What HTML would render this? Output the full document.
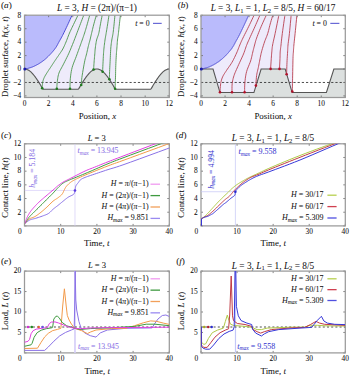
<!DOCTYPE html><html><head><meta charset="utf-8"><style>html,body{margin:0;padding:0;background:#fff;overflow:hidden}svg{display:block}</style></head><body><svg width="350" height="376" viewBox="0 0 350 376" font-family="Liberation Serif">
<style>text{stroke-width:0.05px}</style>
<rect width="350" height="376" fill="#fff"/>
<clipPath id="cpA"><rect x="24.5" y="15.2" width="144.8" height="82.3"/></clipPath>
<g clip-path="url(#cpA)">
<path d="M24.5 69.03 L25.1 69.06 L25.71 69.14 L26.31 69.27 L26.91 69.46 L27.52 69.7 L28.12 69.99 L28.72 70.34 L29.33 70.73 L29.93 71.17 L30.53 71.66 L31.14 72.2 L31.74 72.78 L32.34 73.4 L32.95 74.07 L33.55 74.78 L34.15 75.52 L34.76 76.3 L35.36 77.12 L35.96 77.96 L36.57 78.84 L37.17 79.74 L37.77 80.67 L38.38 81.62 L38.98 82.59 L39.58 83.57 L40.19 84.57 L40.79 85.58 L41.39 86.6 L42 87.62 L42.6 88.65 L43.2 89.18 L43.81 89.18 L44.41 89.18 L45.01 89.18 L45.62 89.18 L46.22 89.18 L46.82 89.18 L47.43 89.18 L48.03 89.18 L48.63 89.18 L49.24 89.18 L49.84 89.18 L50.44 89.18 L51.05 89.18 L51.65 89.18 L52.25 89.18 L52.86 89.18 L53.46 89.18 L54.06 89.18 L54.67 89.18 L55.27 89.18 L55.87 89.18 L56.48 89.18 L57.08 89.18 L57.68 89.18 L58.29 89.18 L58.89 89.18 L59.49 89.18 L60.1 89.18 L60.7 89.18 L61.3 89.18 L61.91 89.18 L62.51 89.18 L63.11 89.18 L63.72 89.18 L64.32 89.18 L64.92 89.18 L65.53 89.18 L66.13 89.18 L66.73 89.18 L67.34 89.18 L67.94 89.18 L68.54 89.18 L69.15 89.18 L69.75 89.18 L70.35 89.18 L70.96 89.18 L71.56 89.18 L72.16 89.18 L72.77 89.18 L73.37 89.18 L73.97 89.18 L74.58 89.18 L75.18 89.18 L75.78 89.18 L76.39 89.18 L76.99 89.18 L77.59 89.18 L78.2 89.18 L78.8 88.65 L79.4 87.62 L80.01 86.6 L80.61 85.58 L81.21 84.57 L81.82 83.57 L82.42 82.59 L83.02 81.62 L83.63 80.67 L84.23 79.74 L84.83 78.84 L85.44 77.96 L86.04 77.12 L86.64 76.3 L87.25 75.52 L87.85 74.78 L88.45 74.07 L89.06 73.4 L89.66 72.78 L90.26 72.2 L90.87 71.66 L91.47 71.17 L92.07 70.73 L92.68 70.34 L93.28 69.99 L93.88 69.7 L94.49 69.46 L95.09 69.27 L95.69 69.14 L96.3 69.06 L96.9 69.03 L97.5 69.06 L98.11 69.14 L98.71 69.27 L99.31 69.46 L99.92 69.7 L100.52 69.99 L101.12 70.34 L101.73 70.73 L102.33 71.17 L102.93 71.66 L103.54 72.2 L104.14 72.78 L104.74 73.4 L105.35 74.07 L105.95 74.78 L106.55 75.52 L107.16 76.3 L107.76 77.12 L108.36 77.96 L108.97 78.84 L109.57 79.74 L110.17 80.67 L110.78 81.62 L111.38 82.59 L111.98 83.57 L112.59 84.57 L113.19 85.58 L113.79 86.6 L114.4 87.62 L115 88.65 L115.6 89.18 L116.21 89.18 L116.81 89.18 L117.41 89.18 L118.02 89.18 L118.62 89.18 L119.22 89.18 L119.83 89.18 L120.43 89.18 L121.03 89.18 L121.64 89.18 L122.24 89.18 L122.84 89.18 L123.45 89.18 L124.05 89.18 L124.65 89.18 L125.26 89.18 L125.86 89.18 L126.46 89.18 L127.07 89.18 L127.67 89.18 L128.27 89.18 L128.88 89.18 L129.48 89.18 L130.08 89.18 L130.69 89.18 L131.29 89.18 L131.89 89.18 L132.5 89.18 L133.1 89.18 L133.7 89.18 L134.31 89.18 L134.91 89.18 L135.51 89.18 L136.12 89.18 L136.72 89.18 L137.32 89.18 L137.93 89.18 L138.53 89.18 L139.13 89.18 L139.74 89.18 L140.34 89.18 L140.94 89.18 L141.55 89.18 L142.15 89.18 L142.75 89.18 L143.36 89.18 L143.96 89.18 L144.56 89.18 L145.17 89.18 L145.77 89.18 L146.37 89.18 L146.98 89.18 L147.58 89.18 L148.18 89.18 L148.79 89.18 L149.39 89.18 L149.99 89.18 L150.6 89.18 L151.2 88.65 L151.8 87.62 L152.41 86.6 L153.01 85.58 L153.61 84.57 L154.22 83.57 L154.82 82.59 L155.42 81.62 L156.03 80.67 L156.63 79.74 L157.23 78.84 L157.84 77.96 L158.44 77.12 L159.04 76.3 L159.65 75.52 L160.25 74.78 L160.85 74.07 L161.46 73.4 L162.06 72.78 L162.66 72.2 L163.27 71.66 L163.87 71.17 L164.47 70.73 L165.08 70.34 L165.68 69.99 L166.28 69.7 L166.89 69.46 L167.49 69.27 L168.09 69.14 L168.7 69.06 L169.3 69.03 L169.3 97.5 L24.5 97.5 Z" fill="#dce0df"/>
<path d="M24.5 15.2 L72.4 14.5 L71.84 15.72 L71.07 17.42 L70.15 19.43 L69.17 21.58 L68.19 23.69 L67.3 25.6 L66.47 27.36 L65.63 29.13 L64.79 30.86 L63.99 32.52 L63.22 34.08 L62.5 35.5 L61.85 36.76 L61.24 37.88 L60.68 38.9 L60.14 39.85 L59.62 40.77 L59.1 41.7 L58.6 42.62 L58.14 43.51 L57.69 44.37 L57.24 45.2 L56.78 46.01 L56.3 46.8 L55.8 47.56 L55.3 48.29 L54.78 48.99 L54.25 49.68 L53.69 50.38 L53.1 51.1 L52.47 51.84 L51.81 52.6 L51.12 53.36 L50.42 54.12 L49.71 54.87 L49 55.6 L48.29 56.32 L47.56 57.03 L46.83 57.73 L46.09 58.41 L45.35 59.07 L44.6 59.7 L43.84 60.31 L43.06 60.9 L42.28 61.46 L41.5 62 L40.73 62.52 L40 63 L39.3 63.45 L38.61 63.86 L37.94 64.25 L37.29 64.61 L36.64 64.96 L36 65.3 L35.37 65.62 L34.76 65.93 L34.16 66.21 L33.55 66.49 L32.94 66.75 L32.3 67 L31.63 67.25 L30.94 67.48 L30.24 67.71 L29.54 67.92 L28.86 68.12 L28.2 68.3 L27.53 68.47 L26.83 68.63 L26.14 68.78 L25.51 68.91 L24.99 69.02 L24.6 69.1 L24.5 69.1 Z" fill="#babbfc"/>
<path d="M72.4 14.5 L71.84 15.72 L71.07 17.42 L70.15 19.43 L69.17 21.58 L68.19 23.69 L67.3 25.6 L66.47 27.36 L65.63 29.13 L64.79 30.86 L63.99 32.52 L63.22 34.08 L62.5 35.5 L61.85 36.76 L61.24 37.88 L60.68 38.9 L60.14 39.85 L59.62 40.77 L59.1 41.7 L58.6 42.62 L58.14 43.51 L57.69 44.37 L57.24 45.2 L56.78 46.01 L56.3 46.8 L55.8 47.56 L55.3 48.29 L54.78 48.99 L54.25 49.68 L53.69 50.38 L53.1 51.1 L52.47 51.84 L51.81 52.6 L51.12 53.36 L50.42 54.12 L49.71 54.87 L49 55.6 L48.29 56.32 L47.56 57.03 L46.83 57.73 L46.09 58.41 L45.35 59.07 L44.6 59.7 L43.84 60.31 L43.06 60.9 L42.28 61.46 L41.5 62 L40.73 62.52 L40 63 L39.3 63.45 L38.61 63.86 L37.94 64.25 L37.29 64.61 L36.64 64.96 L36 65.3 L35.37 65.62 L34.76 65.93 L34.16 66.21 L33.55 66.49 L32.94 66.75 L32.3 67 L31.63 67.25 L30.94 67.48 L30.24 67.71 L29.54 67.92 L28.86 68.12 L28.2 68.3 L27.53 68.47 L26.83 68.63 L26.14 68.78 L25.51 68.91 L24.99 69.02 L24.6 69.1 L24.5 69.03 L25.1 69.06 L25.71 69.14 L26.31 69.27 L26.91 69.46 L27.52 69.7 L28.12 69.99 L28.72 70.34 L29.33 70.73 L29.93 71.17 L30.53 71.66 L31.14 72.2 L31.74 72.78 L32.34 73.4 L32.95 74.07 L33.55 74.78 L34.15 75.52 L34.76 76.3 L35.36 77.12 L35.96 77.96 L36.57 78.84 L37.17 79.74 L37.77 80.67 L38.38 81.62 L38.98 82.59 L39.58 83.57 L40.19 84.57 L40.79 85.58 L41.39 86.6 L42 87.62 L42.6 88.65 L43.2 89.18 L43.81 89.18 L44.41 89.18 L45.01 89.18 L45.62 89.18 L46.22 89.18 L46.82 89.18 L47.43 89.18 L48.03 89.18 L48.63 89.18 L49.24 89.18 L49.84 89.18 L50.44 89.18 L51.05 89.18 L51.65 89.18 L52.25 89.18 L52.86 89.18 L53.46 89.18 L54.06 89.18 L54.67 89.18 L55.27 89.18 L55.87 89.18 L56.48 89.18 L57.08 89.18 L57.68 89.18 L58.29 89.18 L58.89 89.18 L59.49 89.18 L60.1 89.18 L60.7 89.18 L61.3 89.18 L61.91 89.18 L62.51 89.18 L63.11 89.18 L63.72 89.18 L64.32 89.18 L64.92 89.18 L65.53 89.18 L66.13 89.18 L66.73 89.18 L67.34 89.18 L67.94 89.18 L68.54 89.18 L69.15 89.18 L69.75 89.18 L70.35 89.18 L70.96 89.18 L71.56 89.18 L72.16 89.18 L72.77 89.18 L73.37 89.18 L73.97 89.18 L74.58 89.18 L75.18 89.18 L75.78 89.18 L76.39 89.18 L76.99 89.18 L77.59 89.18 L78.2 89.18 L78.8 88.65 L79.4 87.62 L80.01 86.6 L80.61 85.58 L81.21 84.57 L81.82 83.57 L82.42 82.59 L83.02 81.62 L83.63 80.67 L84.23 79.74 L84.83 78.84 L85.44 77.96 L86.04 77.12 L86.64 76.3 L87.25 75.52 L87.85 74.78 L88.45 74.07 L89.06 73.4 L89.66 72.78 L90.26 72.2 L90.87 71.66 L91.47 71.17 L92.07 70.73 L92.68 70.34 L93.28 69.99 L93.88 69.7 L94.49 69.46 L95.09 69.27 L95.69 69.14 L96.3 69.06 L96.9 69.03 L97.5 69.06 L98.11 69.14 L98.71 69.27 L99.31 69.46 L99.92 69.7 L100.52 69.99 L101.12 70.34 L101.73 70.73 L102.33 71.17 L102.93 71.66 L103.54 72.2 L104.14 72.78 L104.74 73.4 L105.35 74.07 L105.95 74.78 L106.55 75.52 L107.16 76.3 L107.76 77.12 L108.36 77.96 L108.97 78.84 L109.57 79.74 L110.17 80.67 L110.78 81.62 L111.38 82.59 L111.98 83.57 L112.59 84.57 L113.19 85.58 L113.79 86.6 L114.4 87.62 L115 88.65 L115.1 88.7 L115.14 87.45 L115.21 85.73 L115.28 83.68 L115.36 81.47 L115.43 79.26 L115.5 77.2 L115.55 75.26 L115.6 73.31 L115.64 71.36 L115.68 69.41 L115.73 67.45 L115.8 65.5 L115.88 63.48 L115.98 61.38 L116.09 59.28 L116.2 57.26 L116.3 55.41 L116.4 53.8 L116.49 52.52 L116.57 51.51 L116.65 50.67 L116.73 49.88 L116.81 49.03 L116.9 48 L116.99 46.78 L117.08 45.44 L117.18 44.04 L117.27 42.63 L117.38 41.27 L117.5 40 L117.63 38.87 L117.78 37.83 L117.93 36.84 L118.09 35.84 L118.25 34.78 L118.4 33.6 L118.55 32.32 L118.69 30.97 L118.83 29.56 L118.98 28.09 L119.13 26.57 L119.3 25 L119.5 23.24 L119.72 21.25 L119.96 19.21 L120.18 17.29 L120.37 15.66 L120.5 14.5 Z" fill="#eeebfb"/>
<line x1="24.5" y1="82.47" x2="169.3" y2="82.47" stroke="#222" stroke-width="0.8" stroke-dasharray="2.2 2"/>
<path d="M24.5 69.03 L25.1 69.06 L25.71 69.14 L26.31 69.27 L26.91 69.46 L27.52 69.7 L28.12 69.99 L28.72 70.34 L29.33 70.73 L29.93 71.17 L30.53 71.66 L31.14 72.2 L31.74 72.78 L32.34 73.4 L32.95 74.07 L33.55 74.78 L34.15 75.52 L34.76 76.3 L35.36 77.12 L35.96 77.96 L36.57 78.84 L37.17 79.74 L37.77 80.67 L38.38 81.62 L38.98 82.59 L39.58 83.57 L40.19 84.57 L40.79 85.58 L41.39 86.6 L42 87.62 L42.6 88.65 L43.2 89.18 L43.81 89.18 L44.41 89.18 L45.01 89.18 L45.62 89.18 L46.22 89.18 L46.82 89.18 L47.43 89.18 L48.03 89.18 L48.63 89.18 L49.24 89.18 L49.84 89.18 L50.44 89.18 L51.05 89.18 L51.65 89.18 L52.25 89.18 L52.86 89.18 L53.46 89.18 L54.06 89.18 L54.67 89.18 L55.27 89.18 L55.87 89.18 L56.48 89.18 L57.08 89.18 L57.68 89.18 L58.29 89.18 L58.89 89.18 L59.49 89.18 L60.1 89.18 L60.7 89.18 L61.3 89.18 L61.91 89.18 L62.51 89.18 L63.11 89.18 L63.72 89.18 L64.32 89.18 L64.92 89.18 L65.53 89.18 L66.13 89.18 L66.73 89.18 L67.34 89.18 L67.94 89.18 L68.54 89.18 L69.15 89.18 L69.75 89.18 L70.35 89.18 L70.96 89.18 L71.56 89.18 L72.16 89.18 L72.77 89.18 L73.37 89.18 L73.97 89.18 L74.58 89.18 L75.18 89.18 L75.78 89.18 L76.39 89.18 L76.99 89.18 L77.59 89.18 L78.2 89.18 L78.8 88.65 L79.4 87.62 L80.01 86.6 L80.61 85.58 L81.21 84.57 L81.82 83.57 L82.42 82.59 L83.02 81.62 L83.63 80.67 L84.23 79.74 L84.83 78.84 L85.44 77.96 L86.04 77.12 L86.64 76.3 L87.25 75.52 L87.85 74.78 L88.45 74.07 L89.06 73.4 L89.66 72.78 L90.26 72.2 L90.87 71.66 L91.47 71.17 L92.07 70.73 L92.68 70.34 L93.28 69.99 L93.88 69.7 L94.49 69.46 L95.09 69.27 L95.69 69.14 L96.3 69.06 L96.9 69.03 L97.5 69.06 L98.11 69.14 L98.71 69.27 L99.31 69.46 L99.92 69.7 L100.52 69.99 L101.12 70.34 L101.73 70.73 L102.33 71.17 L102.93 71.66 L103.54 72.2 L104.14 72.78 L104.74 73.4 L105.35 74.07 L105.95 74.78 L106.55 75.52 L107.16 76.3 L107.76 77.12 L108.36 77.96 L108.97 78.84 L109.57 79.74 L110.17 80.67 L110.78 81.62 L111.38 82.59 L111.98 83.57 L112.59 84.57 L113.19 85.58 L113.79 86.6 L114.4 87.62 L115 88.65 L115.6 89.18 L116.21 89.18 L116.81 89.18 L117.41 89.18 L118.02 89.18 L118.62 89.18 L119.22 89.18 L119.83 89.18 L120.43 89.18 L121.03 89.18 L121.64 89.18 L122.24 89.18 L122.84 89.18 L123.45 89.18 L124.05 89.18 L124.65 89.18 L125.26 89.18 L125.86 89.18 L126.46 89.18 L127.07 89.18 L127.67 89.18 L128.27 89.18 L128.88 89.18 L129.48 89.18 L130.08 89.18 L130.69 89.18 L131.29 89.18 L131.89 89.18 L132.5 89.18 L133.1 89.18 L133.7 89.18 L134.31 89.18 L134.91 89.18 L135.51 89.18 L136.12 89.18 L136.72 89.18 L137.32 89.18 L137.93 89.18 L138.53 89.18 L139.13 89.18 L139.74 89.18 L140.34 89.18 L140.94 89.18 L141.55 89.18 L142.15 89.18 L142.75 89.18 L143.36 89.18 L143.96 89.18 L144.56 89.18 L145.17 89.18 L145.77 89.18 L146.37 89.18 L146.98 89.18 L147.58 89.18 L148.18 89.18 L148.79 89.18 L149.39 89.18 L149.99 89.18 L150.6 89.18 L151.2 88.65 L151.8 87.62 L152.41 86.6 L153.01 85.58 L153.61 84.57 L154.22 83.57 L154.82 82.59 L155.42 81.62 L156.03 80.67 L156.63 79.74 L157.23 78.84 L157.84 77.96 L158.44 77.12 L159.04 76.3 L159.65 75.52 L160.25 74.78 L160.85 74.07 L161.46 73.4 L162.06 72.78 L162.66 72.2 L163.27 71.66 L163.87 71.17 L164.47 70.73 L165.08 70.34 L165.68 69.99 L166.28 69.7 L166.89 69.46 L167.49 69.27 L168.09 69.14 L168.7 69.06 L169.3 69.03" fill="none" stroke="#555" stroke-width="1.1"/>
<path d="M42.2 88.3 L42.24 87.63 L42.29 86.7 L42.36 85.59 L42.44 84.43 L42.55 83.29 L42.7 82.3 L42.87 81.45 L43.07 80.66 L43.29 79.91 L43.54 79.16 L43.85 78.4 L44.2 77.6 L44.62 76.75 L45.09 75.89 L45.61 75.01 L46.16 74.11 L46.73 73.21 L47.3 72.3 L47.88 71.39 L48.48 70.47 L49.09 69.55 L49.72 68.61 L50.36 67.67 L51 66.7 L51.65 65.71 L52.3 64.7 L52.97 63.68 L53.64 62.65 L54.32 61.62 L55 60.6 L55.7 59.58 L56.41 58.54 L57.12 57.51 L57.84 56.49 L58.53 55.48 L59.2 54.5 L59.84 53.57 L60.46 52.68 L61.06 51.81 L61.65 50.92 L62.23 50 L62.8 49 L63.35 47.94 L63.89 46.85 L64.41 45.72 L64.93 44.54 L65.45 43.3 L66 42 L66.56 40.61 L67.13 39.13 L67.7 37.59 L68.29 36.04 L68.88 34.49 L69.5 33 L70.13 31.57 L70.77 30.19 L71.42 28.81 L72.09 27.43 L72.78 26 L73.5 24.5 L74.31 22.8 L75.22 20.91 L76.15 18.97 L77.03 17.15 L77.77 15.61 L78.3 14.5" fill="none" stroke="#4a944a" stroke-width="0.9" stroke-linejoin="round"/>
<path d="M56.8 88.7 L56.84 87.93 L56.89 86.87 L56.95 85.62 L57.03 84.25 L57.15 82.85 L57.3 81.5 L57.47 80.18 L57.66 78.81 L57.87 77.42 L58.13 76.01 L58.47 74.6 L58.9 73.2 L59.43 71.85 L60.06 70.54 L60.76 69.23 L61.51 67.87 L62.29 66.45 L63.1 64.9 L63.96 63.19 L64.9 61.34 L65.87 59.41 L66.84 57.47 L67.76 55.58 L68.6 53.8 L69.35 52.14 L70.03 50.56 L70.67 49.02 L71.29 47.51 L71.89 46.01 L72.5 44.5 L73.1 42.99 L73.69 41.51 L74.26 40.04 L74.83 38.56 L75.4 37.05 L76 35.5 L76.61 33.9 L77.23 32.28 L77.86 30.62 L78.49 28.94 L79.14 27.24 L79.8 25.5 L80.53 23.6 L81.33 21.5 L82.14 19.38 L82.9 17.39 L83.54 15.71 L84 14.5" fill="none" stroke="#4a944a" stroke-width="0.9" stroke-linejoin="round"/>
<path d="M70 88.7 L70.02 87.64 L70.02 86.18 L70.04 84.44 L70.08 82.56 L70.16 80.63 L70.3 78.8 L70.49 77.02 L70.7 75.19 L70.96 73.33 L71.27 71.44 L71.65 69.56 L72.1 67.7 L72.66 65.83 L73.33 63.93 L74.06 62.03 L74.81 60.15 L75.54 58.33 L76.2 56.6 L76.8 54.95 L77.38 53.36 L77.94 51.82 L78.47 50.34 L78.99 48.9 L79.5 47.5 L79.99 46.15 L80.46 44.86 L80.91 43.62 L81.34 42.4 L81.77 41.2 L82.2 40 L82.62 38.82 L83.02 37.67 L83.42 36.53 L83.81 35.39 L84.2 34.22 L84.6 33 L84.99 31.75 L85.38 30.5 L85.77 29.22 L86.16 27.89 L86.57 26.49 L87 25 L87.49 23.27 L88.04 21.3 L88.6 19.25 L89.13 17.31 L89.58 15.67 L89.9 14.5" fill="none" stroke="#4a944a" stroke-width="0.9" stroke-linejoin="round"/>
<path d="M81.2 85 L81.25 84.26 L81.31 83.31 L81.39 82.16 L81.5 80.79 L81.67 79.2 L81.9 77.4 L82.23 75.21 L82.64 72.61 L83.11 69.79 L83.6 66.97 L84.07 64.33 L84.5 62.1 L84.88 60.31 L85.24 58.81 L85.59 57.51 L85.93 56.31 L86.27 55.1 L86.6 53.8 L86.93 52.38 L87.26 50.93 L87.59 49.47 L87.9 48.06 L88.21 46.72 L88.5 45.5 L88.77 44.43 L89.03 43.49 L89.28 42.63 L89.51 41.8 L89.75 40.94 L90 40 L90.24 39.01 L90.48 38.01 L90.71 36.99 L90.96 35.93 L91.22 34.8 L91.5 33.6 L91.81 32.32 L92.13 30.97 L92.46 29.56 L92.82 28.09 L93.2 26.57 L93.6 25 L94.07 23.24 L94.61 21.25 L95.18 19.21 L95.72 17.29 L96.18 15.66 L96.5 14.5" fill="none" stroke="#4a944a" stroke-width="0.9" stroke-linejoin="round"/>
<path d="M93.6 69.5 L93.65 68.69 L93.72 67.58 L93.81 66.26 L93.9 64.83 L94 63.38 L94.1 62 L94.21 60.65 L94.33 59.23 L94.45 57.79 L94.57 56.38 L94.69 55.04 L94.8 53.8 L94.89 52.72 L94.95 51.77 L95.01 50.89 L95.08 50.01 L95.17 49.07 L95.3 48 L95.46 46.78 L95.64 45.44 L95.85 44.04 L96.08 42.63 L96.33 41.27 L96.6 40 L96.91 38.87 L97.26 37.83 L97.63 36.84 L98.01 35.84 L98.37 34.78 L98.7 33.6 L98.99 32.32 L99.26 30.97 L99.51 29.56 L99.76 28.09 L100.02 26.57 L100.3 25 L100.63 23.24 L101.01 21.25 L101.4 19.21 L101.77 17.29 L102.08 15.66 L102.3 14.5" fill="none" stroke="#4a944a" stroke-width="0.9" stroke-linejoin="round"/>
<path d="M102.6 71.7 L102.64 70.79 L102.7 69.53 L102.77 68.04 L102.84 66.41 L102.92 64.77 L103 63.2 L103.08 61.64 L103.16 60 L103.24 58.33 L103.33 56.7 L103.42 55.17 L103.5 53.8 L103.58 52.65 L103.65 51.68 L103.72 50.81 L103.8 49.96 L103.89 49.05 L104 48 L104.14 46.78 L104.29 45.44 L104.46 44.04 L104.64 42.63 L104.82 41.27 L105 40 L105.17 38.87 L105.35 37.83 L105.53 36.84 L105.71 35.84 L105.9 34.78 L106.1 33.6 L106.31 32.32 L106.54 30.97 L106.77 29.56 L107.01 28.09 L107.25 26.57 L107.5 25 L107.77 23.24 L108.08 21.25 L108.39 19.21 L108.68 17.29 L108.92 15.66 L109.1 14.5" fill="none" stroke="#4a944a" stroke-width="0.9" stroke-linejoin="round"/>
<path d="M109.4 79.3 L109.42 78.48 L109.44 77.39 L109.46 76.08 L109.5 74.61 L109.54 73.03 L109.6 71.4 L109.68 69.67 L109.77 67.78 L109.88 65.79 L109.99 63.74 L110.1 61.69 L110.2 59.7 L110.3 57.71 L110.39 55.66 L110.48 53.62 L110.57 51.63 L110.68 49.74 L110.8 48 L110.94 46.43 L111.1 45 L111.26 43.67 L111.44 42.41 L111.62 41.2 L111.8 40 L111.99 38.87 L112.19 37.83 L112.4 36.84 L112.61 35.84 L112.81 34.78 L113 33.6 L113.18 32.32 L113.35 30.97 L113.51 29.56 L113.67 28.09 L113.84 26.57 L114 25 L114.18 23.24 L114.37 21.25 L114.56 19.21 L114.74 17.29 L114.89 15.66 L115 14.5" fill="none" stroke="#4a944a" stroke-width="0.9" stroke-linejoin="round"/>
<path d="M115.1 88.7 L115.14 87.45 L115.21 85.73 L115.28 83.68 L115.36 81.47 L115.43 79.26 L115.5 77.2 L115.55 75.26 L115.6 73.31 L115.64 71.36 L115.68 69.41 L115.73 67.45 L115.8 65.5 L115.88 63.48 L115.98 61.38 L116.09 59.28 L116.2 57.26 L116.3 55.41 L116.4 53.8 L116.49 52.52 L116.57 51.51 L116.65 50.67 L116.73 49.88 L116.81 49.03 L116.9 48 L116.99 46.78 L117.08 45.44 L117.18 44.04 L117.27 42.63 L117.38 41.27 L117.5 40 L117.63 38.87 L117.78 37.83 L117.93 36.84 L118.09 35.84 L118.25 34.78 L118.4 33.6 L118.55 32.32 L118.69 30.97 L118.83 29.56 L118.98 28.09 L119.13 26.57 L119.3 25 L119.5 23.24 L119.72 21.25 L119.96 19.21 L120.18 17.29 L120.37 15.66 L120.5 14.5" fill="none" stroke="#4a944a" stroke-width="0.9" stroke-linejoin="round"/>
<path d="M24.6 69.1 L24.99 69.02 L25.51 68.91 L26.14 68.78 L26.83 68.63 L27.53 68.47 L28.2 68.3 L28.86 68.12 L29.54 67.92 L30.24 67.71 L30.94 67.48 L31.63 67.25 L32.3 67 L32.94 66.75 L33.55 66.49 L34.16 66.21 L34.76 65.93 L35.37 65.62 L36 65.3 L36.64 64.96 L37.29 64.61 L37.94 64.25 L38.61 63.86 L39.3 63.45 L40 63 L40.73 62.52 L41.5 62 L42.28 61.46 L43.06 60.9 L43.84 60.31 L44.6 59.7 L45.35 59.07 L46.09 58.41 L46.83 57.73 L47.56 57.03 L48.29 56.32 L49 55.6 L49.71 54.87 L50.42 54.12 L51.12 53.36 L51.81 52.6 L52.47 51.84 L53.1 51.1 L53.69 50.38 L54.25 49.68 L54.78 48.99 L55.3 48.29 L55.8 47.56 L56.3 46.8 L56.78 46.01 L57.24 45.2 L57.69 44.37 L58.14 43.51 L58.6 42.62 L59.1 41.7 L59.62 40.77 L60.14 39.85 L60.68 38.9 L61.24 37.88 L61.85 36.76 L62.5 35.5 L63.22 34.08 L63.99 32.52 L64.79 30.86 L65.63 29.13 L66.47 27.36 L67.3 25.6 L68.19 23.69 L69.17 21.58 L70.15 19.43 L71.07 17.42 L71.84 15.72 L72.4 14.5" fill="none" stroke="#3a3ad0" stroke-width="0.9"/>
<circle cx="42.2" cy="88.3" r="1.3" fill="#1f7a1f"/>
<circle cx="56.8" cy="88.7" r="1.3" fill="#1f7a1f"/>
<circle cx="70" cy="88.7" r="1.3" fill="#1f7a1f"/>
<circle cx="81.2" cy="85" r="1.3" fill="#1f7a1f"/>
<circle cx="93.6" cy="69.5" r="1.3" fill="#1f7a1f"/>
<circle cx="102.6" cy="71.7" r="1.3" fill="#1f7a1f"/>
<circle cx="109.4" cy="79.3" r="1.3" fill="#1f7a1f"/>
<circle cx="115.1" cy="88.7" r="1.3" fill="#1f7a1f"/>
</g>
<line x1="24.5" y1="97.5" x2="24.5" y2="95.5" stroke="#666" stroke-width="0.8"/>
<line x1="24.5" y1="15.2" x2="24.5" y2="17.2" stroke="#666" stroke-width="0.8"/>
<text x="24.5" y="105.5" font-size="7.4" text-anchor="middle" fill="#111" stroke="#111" >0</text>
<line x1="48.63" y1="97.5" x2="48.63" y2="95.5" stroke="#666" stroke-width="0.8"/>
<line x1="48.63" y1="15.2" x2="48.63" y2="17.2" stroke="#666" stroke-width="0.8"/>
<text x="48.63" y="105.5" font-size="7.4" text-anchor="middle" fill="#111" stroke="#111" >2</text>
<line x1="72.77" y1="97.5" x2="72.77" y2="95.5" stroke="#666" stroke-width="0.8"/>
<line x1="72.77" y1="15.2" x2="72.77" y2="17.2" stroke="#666" stroke-width="0.8"/>
<text x="72.77" y="105.5" font-size="7.4" text-anchor="middle" fill="#111" stroke="#111" >4</text>
<line x1="96.9" y1="97.5" x2="96.9" y2="95.5" stroke="#666" stroke-width="0.8"/>
<line x1="96.9" y1="15.2" x2="96.9" y2="17.2" stroke="#666" stroke-width="0.8"/>
<text x="96.9" y="105.5" font-size="7.4" text-anchor="middle" fill="#111" stroke="#111" >6</text>
<line x1="121.03" y1="97.5" x2="121.03" y2="95.5" stroke="#666" stroke-width="0.8"/>
<line x1="121.03" y1="15.2" x2="121.03" y2="17.2" stroke="#666" stroke-width="0.8"/>
<text x="121.03" y="105.5" font-size="7.4" text-anchor="middle" fill="#111" stroke="#111" >8</text>
<line x1="145.17" y1="97.5" x2="145.17" y2="95.5" stroke="#666" stroke-width="0.8"/>
<line x1="145.17" y1="15.2" x2="145.17" y2="17.2" stroke="#666" stroke-width="0.8"/>
<text x="145.17" y="105.5" font-size="7.4" text-anchor="middle" fill="#111" stroke="#111" >10</text>
<line x1="169.3" y1="97.5" x2="169.3" y2="95.5" stroke="#666" stroke-width="0.8"/>
<line x1="169.3" y1="15.2" x2="169.3" y2="17.2" stroke="#666" stroke-width="0.8"/>
<text x="169.3" y="105.5" font-size="7.4" text-anchor="middle" fill="#111" stroke="#111" >12</text>
<line x1="24.5" y1="95.9" x2="26.5" y2="95.9" stroke="#666" stroke-width="0.8"/>
<line x1="169.3" y1="95.9" x2="167.3" y2="95.9" stroke="#666" stroke-width="0.8"/>
<text x="21.2" y="98.2" font-size="7.4" text-anchor="end" fill="#111" stroke="#111" >&#8722;4</text>
<line x1="24.5" y1="82.47" x2="26.5" y2="82.47" stroke="#666" stroke-width="0.8"/>
<line x1="169.3" y1="82.47" x2="167.3" y2="82.47" stroke="#666" stroke-width="0.8"/>
<text x="21.2" y="84.77" font-size="7.4" text-anchor="end" fill="#111" stroke="#111" >&#8722;2</text>
<line x1="24.5" y1="69.03" x2="26.5" y2="69.03" stroke="#666" stroke-width="0.8"/>
<line x1="169.3" y1="69.03" x2="167.3" y2="69.03" stroke="#666" stroke-width="0.8"/>
<text x="21.2" y="71.33" font-size="7.4" text-anchor="end" fill="#111" stroke="#111" >0</text>
<line x1="24.5" y1="55.6" x2="26.5" y2="55.6" stroke="#666" stroke-width="0.8"/>
<line x1="169.3" y1="55.6" x2="167.3" y2="55.6" stroke="#666" stroke-width="0.8"/>
<text x="21.2" y="57.9" font-size="7.4" text-anchor="end" fill="#111" stroke="#111" >2</text>
<line x1="24.5" y1="42.17" x2="26.5" y2="42.17" stroke="#666" stroke-width="0.8"/>
<line x1="169.3" y1="42.17" x2="167.3" y2="42.17" stroke="#666" stroke-width="0.8"/>
<text x="21.2" y="44.47" font-size="7.4" text-anchor="end" fill="#111" stroke="#111" >4</text>
<line x1="24.5" y1="28.73" x2="26.5" y2="28.73" stroke="#666" stroke-width="0.8"/>
<line x1="169.3" y1="28.73" x2="167.3" y2="28.73" stroke="#666" stroke-width="0.8"/>
<text x="21.2" y="31.03" font-size="7.4" text-anchor="end" fill="#111" stroke="#111" >6</text>
<line x1="24.5" y1="15.3" x2="26.5" y2="15.3" stroke="#666" stroke-width="0.8"/>
<line x1="169.3" y1="15.3" x2="167.3" y2="15.3" stroke="#666" stroke-width="0.8"/>
<text x="21.2" y="17.6" font-size="7.4" text-anchor="end" fill="#111" stroke="#111" >8</text>
<rect x="24.5" y="15.2" width="144.8" height="82.3" fill="none" stroke="#9a9a9a" stroke-width="1.25"/>
<circle cx="24.8" cy="69.1" r="1.5" fill="#1a1aaa"/>
<clipPath id="cpB"><rect x="201.0" y="15.2" width="144.3" height="82.3"/></clipPath>
<g clip-path="url(#cpB)">
<path d="M201 69.03 L213.03 69.03 L220 92.54 L253.91 92.54 L261.12 69.03 L285.18 69.03 L292.15 92.54 L326.42 92.54 L333.88 69.03 L345.3 69.03 L346.3 97.5 L201 97.5 Z" fill="#dce0df"/>
<path d="M201 15.2 L249 14.5 L248.94 14.63 L248.86 14.8 L248.77 15 L248.66 15.23 L248.55 15.48 L248.44 15.72 L248.33 15.97 L248.2 16.24 L248.08 16.52 L247.94 16.81 L247.81 17.12 L247.67 17.42 L247.52 17.74 L247.37 18.06 L247.22 18.4 L247.07 18.74 L246.91 19.08 L246.75 19.43 L246.59 19.78 L246.43 20.14 L246.26 20.5 L246.1 20.86 L245.93 21.22 L245.77 21.58 L245.6 21.93 L245.44 22.29 L245.27 22.65 L245.11 23 L244.95 23.35 L244.79 23.69 L244.64 24.02 L244.49 24.35 L244.34 24.67 L244.19 24.98 L244.04 25.29 L243.9 25.6 L243.76 25.9 L243.62 26.2 L243.48 26.49 L243.34 26.78 L243.21 27.07 L243.07 27.36 L242.93 27.66 L242.79 27.95 L242.65 28.25 L242.51 28.54 L242.37 28.83 L242.23 29.13 L242.09 29.42 L241.95 29.71 L241.81 30 L241.67 30.29 L241.53 30.57 L241.39 30.86 L241.26 31.14 L241.12 31.42 L240.99 31.7 L240.85 31.97 L240.72 32.25 L240.59 32.52 L240.45 32.79 L240.32 33.05 L240.19 33.31 L240.07 33.57 L239.94 33.83 L239.82 34.08 L239.69 34.32 L239.57 34.57 L239.45 34.81 L239.33 35.04 L239.22 35.27 L239.1 35.5 L238.99 35.72 L238.88 35.94 L238.77 36.15 L238.66 36.36 L238.55 36.56 L238.45 36.76 L238.34 36.96 L238.24 37.15 L238.14 37.34 L238.04 37.52 L237.94 37.7 L237.84 37.88 L237.74 38.06 L237.65 38.23 L237.55 38.4 L237.46 38.57 L237.37 38.74 L237.28 38.9 L237.18 39.06 L237.09 39.22 L237 39.38 L236.91 39.54 L236.83 39.7 L236.74 39.85 L236.65 40.01 L236.56 40.16 L236.47 40.31 L236.39 40.47 L236.3 40.62 L236.22 40.77 L236.13 40.93 L236.04 41.08 L235.96 41.24 L235.87 41.39 L235.78 41.55 L235.7 41.7 L235.62 41.85 L235.53 42.01 L235.45 42.16 L235.37 42.32 L235.28 42.47 L235.2 42.62 L235.12 42.77 L235.04 42.92 L234.97 43.07 L234.89 43.22 L234.81 43.37 L234.74 43.51 L234.66 43.66 L234.59 43.8 L234.51 43.94 L234.44 44.09 L234.36 44.23 L234.29 44.37 L234.21 44.51 L234.14 44.65 L234.06 44.79 L233.99 44.93 L233.92 45.06 L233.84 45.2 L233.77 45.34 L233.69 45.47 L233.61 45.61 L233.54 45.74 L233.46 45.88 L233.38 46.01 L233.3 46.14 L233.22 46.28 L233.14 46.41 L233.06 46.54 L232.98 46.67 L232.9 46.8 L232.82 46.93 L232.73 47.06 L232.65 47.18 L232.57 47.31 L232.48 47.44 L232.4 47.56 L232.32 47.68 L232.23 47.81 L232.15 47.93 L232.07 48.05 L231.98 48.17 L231.9 48.29 L231.81 48.4 L231.73 48.52 L231.64 48.64 L231.55 48.75 L231.47 48.87 L231.38 48.99 L231.29 49.1 L231.21 49.22 L231.12 49.33 L231.03 49.45 L230.94 49.57 L230.85 49.68 L230.76 49.8 L230.67 49.91 L230.57 50.03 L230.48 50.15 L230.39 50.26 L230.29 50.38 L230.19 50.5 L230.1 50.62 L230 50.74 L229.9 50.86 L229.8 50.98 L229.7 51.1 L229.6 51.22 L229.49 51.35 L229.39 51.47 L229.29 51.59 L229.18 51.72 L229.07 51.84 L228.96 51.97 L228.86 52.09 L228.75 52.22 L228.63 52.35 L228.52 52.47 L228.41 52.6 L228.3 52.73 L228.18 52.85 L228.07 52.98 L227.96 53.11 L227.84 53.24 L227.72 53.36 L227.61 53.49 L227.49 53.62 L227.38 53.74 L227.26 53.87 L227.14 54 L227.02 54.12 L226.9 54.25 L226.79 54.37 L226.67 54.5 L226.55 54.62 L226.43 54.75 L226.31 54.87 L226.19 54.99 L226.07 55.12 L225.96 55.24 L225.84 55.36 L225.72 55.48 L225.6 55.6 L225.48 55.72 L225.36 55.84 L225.24 55.96 L225.13 56.08 L225.01 56.2 L224.89 56.32 L224.77 56.43 L224.65 56.55 L224.53 56.67 L224.41 56.79 L224.28 56.91 L224.16 57.03 L224.04 57.14 L223.92 57.26 L223.8 57.38 L223.68 57.49 L223.55 57.61 L223.43 57.73 L223.31 57.84 L223.19 57.95 L223.06 58.07 L222.94 58.18 L222.82 58.3 L222.69 58.41 L222.57 58.52 L222.45 58.63 L222.32 58.74 L222.2 58.85 L222.07 58.96 L221.95 59.07 L221.82 59.17 L221.7 59.28 L221.58 59.39 L221.45 59.49 L221.33 59.6 L221.2 59.7 L221.07 59.8 L220.95 59.91 L220.82 60.01 L220.69 60.11 L220.57 60.21 L220.44 60.31 L220.31 60.41 L220.18 60.51 L220.05 60.6 L219.92 60.7 L219.79 60.8 L219.66 60.9 L219.53 60.99 L219.4 61.09 L219.27 61.18 L219.14 61.28 L219.01 61.37 L218.88 61.46 L218.74 61.55 L218.61 61.65 L218.48 61.74 L218.35 61.83 L218.23 61.92 L218.1 62 L217.97 62.09 L217.84 62.18 L217.71 62.26 L217.59 62.35 L217.46 62.43 L217.33 62.52 L217.21 62.6 L217.09 62.68 L216.96 62.76 L216.84 62.84 L216.72 62.92 L216.6 63 L216.48 63.08 L216.36 63.15 L216.24 63.23 L216.13 63.3 L216.01 63.38 L215.9 63.45 L215.78 63.52 L215.66 63.59 L215.55 63.66 L215.44 63.73 L215.32 63.8 L215.21 63.86 L215.1 63.93 L214.99 63.99 L214.88 64.06 L214.76 64.12 L214.65 64.19 L214.54 64.25 L214.43 64.31 L214.32 64.37 L214.22 64.43 L214.11 64.5 L214 64.56 L213.89 64.61 L213.78 64.67 L213.67 64.73 L213.56 64.79 L213.46 64.85 L213.35 64.91 L213.24 64.96 L213.13 65.02 L213.03 65.08 L212.92 65.13 L212.81 65.19 L212.71 65.24 L212.6 65.3 L212.49 65.35 L212.39 65.41 L212.28 65.46 L212.18 65.52 L212.07 65.57 L211.97 65.62 L211.87 65.67 L211.77 65.73 L211.66 65.78 L211.56 65.83 L211.46 65.88 L211.36 65.93 L211.26 65.97 L211.16 66.02 L211.06 66.07 L210.96 66.12 L210.86 66.17 L210.76 66.21 L210.66 66.26 L210.56 66.3 L210.45 66.35 L210.35 66.4 L210.25 66.44 L210.15 66.49 L210.05 66.53 L209.95 66.57 L209.85 66.62 L209.74 66.66 L209.64 66.7 L209.54 66.75 L209.43 66.79 L209.33 66.83 L209.22 66.87 L209.12 66.92 L209.01 66.96 L208.9 67 L208.79 67.04 L208.68 67.08 L208.57 67.12 L208.46 67.16 L208.35 67.21 L208.23 67.25 L208.12 67.29 L208.01 67.33 L207.89 67.36 L207.78 67.4 L207.66 67.44 L207.54 67.48 L207.43 67.52 L207.31 67.56 L207.19 67.6 L207.08 67.63 L206.96 67.67 L206.84 67.71 L206.73 67.74 L206.61 67.78 L206.49 67.81 L206.38 67.85 L206.26 67.88 L206.14 67.92 L206.03 67.95 L205.91 67.99 L205.8 68.02 L205.69 68.05 L205.57 68.08 L205.46 68.12 L205.35 68.15 L205.24 68.18 L205.13 68.21 L205.02 68.24 L204.91 68.27 L204.8 68.3 L204.69 68.33 L204.58 68.36 L204.47 68.39 L204.36 68.42 L204.24 68.44 L204.13 68.47 L204.01 68.5 L203.9 68.53 L203.78 68.55 L203.66 68.58 L203.55 68.61 L203.43 68.63 L203.31 68.66 L203.2 68.68 L203.08 68.71 L202.97 68.73 L202.85 68.76 L202.74 68.78 L202.63 68.8 L202.53 68.83 L202.42 68.85 L202.31 68.87 L202.21 68.89 L202.11 68.91 L202.02 68.93 L201.93 68.95 L201.84 68.97 L201.75 68.99 L201.66 69 L201.59 69.02 L201.51 69.03 L201.43 69.05 L201.36 69.07 L201.29 69.08 L201.24 69.09 L201.2 69.1 L201 69.1 Z" fill="#babbfc"/>
<path d="M249 14.5 L248.94 14.63 L248.86 14.8 L248.77 15 L248.66 15.23 L248.55 15.48 L248.44 15.72 L248.33 15.97 L248.2 16.24 L248.08 16.52 L247.94 16.81 L247.81 17.12 L247.67 17.42 L247.52 17.74 L247.37 18.06 L247.22 18.4 L247.07 18.74 L246.91 19.08 L246.75 19.43 L246.59 19.78 L246.43 20.14 L246.26 20.5 L246.1 20.86 L245.93 21.22 L245.77 21.58 L245.6 21.93 L245.44 22.29 L245.27 22.65 L245.11 23 L244.95 23.35 L244.79 23.69 L244.64 24.02 L244.49 24.35 L244.34 24.67 L244.19 24.98 L244.04 25.29 L243.9 25.6 L243.76 25.9 L243.62 26.2 L243.48 26.49 L243.34 26.78 L243.21 27.07 L243.07 27.36 L242.93 27.66 L242.79 27.95 L242.65 28.25 L242.51 28.54 L242.37 28.83 L242.23 29.13 L242.09 29.42 L241.95 29.71 L241.81 30 L241.67 30.29 L241.53 30.57 L241.39 30.86 L241.26 31.14 L241.12 31.42 L240.99 31.7 L240.85 31.97 L240.72 32.25 L240.59 32.52 L240.45 32.79 L240.32 33.05 L240.19 33.31 L240.07 33.57 L239.94 33.83 L239.82 34.08 L239.69 34.32 L239.57 34.57 L239.45 34.81 L239.33 35.04 L239.22 35.27 L239.1 35.5 L238.99 35.72 L238.88 35.94 L238.77 36.15 L238.66 36.36 L238.55 36.56 L238.45 36.76 L238.34 36.96 L238.24 37.15 L238.14 37.34 L238.04 37.52 L237.94 37.7 L237.84 37.88 L237.74 38.06 L237.65 38.23 L237.55 38.4 L237.46 38.57 L237.37 38.74 L237.28 38.9 L237.18 39.06 L237.09 39.22 L237 39.38 L236.91 39.54 L236.83 39.7 L236.74 39.85 L236.65 40.01 L236.56 40.16 L236.47 40.31 L236.39 40.47 L236.3 40.62 L236.22 40.77 L236.13 40.93 L236.04 41.08 L235.96 41.24 L235.87 41.39 L235.78 41.55 L235.7 41.7 L235.62 41.85 L235.53 42.01 L235.45 42.16 L235.37 42.32 L235.28 42.47 L235.2 42.62 L235.12 42.77 L235.04 42.92 L234.97 43.07 L234.89 43.22 L234.81 43.37 L234.74 43.51 L234.66 43.66 L234.59 43.8 L234.51 43.94 L234.44 44.09 L234.36 44.23 L234.29 44.37 L234.21 44.51 L234.14 44.65 L234.06 44.79 L233.99 44.93 L233.92 45.06 L233.84 45.2 L233.77 45.34 L233.69 45.47 L233.61 45.61 L233.54 45.74 L233.46 45.88 L233.38 46.01 L233.3 46.14 L233.22 46.28 L233.14 46.41 L233.06 46.54 L232.98 46.67 L232.9 46.8 L232.82 46.93 L232.73 47.06 L232.65 47.18 L232.57 47.31 L232.48 47.44 L232.4 47.56 L232.32 47.68 L232.23 47.81 L232.15 47.93 L232.07 48.05 L231.98 48.17 L231.9 48.29 L231.81 48.4 L231.73 48.52 L231.64 48.64 L231.55 48.75 L231.47 48.87 L231.38 48.99 L231.29 49.1 L231.21 49.22 L231.12 49.33 L231.03 49.45 L230.94 49.57 L230.85 49.68 L230.76 49.8 L230.67 49.91 L230.57 50.03 L230.48 50.15 L230.39 50.26 L230.29 50.38 L230.19 50.5 L230.1 50.62 L230 50.74 L229.9 50.86 L229.8 50.98 L229.7 51.1 L229.6 51.22 L229.49 51.35 L229.39 51.47 L229.29 51.59 L229.18 51.72 L229.07 51.84 L228.96 51.97 L228.86 52.09 L228.75 52.22 L228.63 52.35 L228.52 52.47 L228.41 52.6 L228.3 52.73 L228.18 52.85 L228.07 52.98 L227.96 53.11 L227.84 53.24 L227.72 53.36 L227.61 53.49 L227.49 53.62 L227.38 53.74 L227.26 53.87 L227.14 54 L227.02 54.12 L226.9 54.25 L226.79 54.37 L226.67 54.5 L226.55 54.62 L226.43 54.75 L226.31 54.87 L226.19 54.99 L226.07 55.12 L225.96 55.24 L225.84 55.36 L225.72 55.48 L225.6 55.6 L225.48 55.72 L225.36 55.84 L225.24 55.96 L225.13 56.08 L225.01 56.2 L224.89 56.32 L224.77 56.43 L224.65 56.55 L224.53 56.67 L224.41 56.79 L224.28 56.91 L224.16 57.03 L224.04 57.14 L223.92 57.26 L223.8 57.38 L223.68 57.49 L223.55 57.61 L223.43 57.73 L223.31 57.84 L223.19 57.95 L223.06 58.07 L222.94 58.18 L222.82 58.3 L222.69 58.41 L222.57 58.52 L222.45 58.63 L222.32 58.74 L222.2 58.85 L222.07 58.96 L221.95 59.07 L221.82 59.17 L221.7 59.28 L221.58 59.39 L221.45 59.49 L221.33 59.6 L221.2 59.7 L221.07 59.8 L220.95 59.91 L220.82 60.01 L220.69 60.11 L220.57 60.21 L220.44 60.31 L220.31 60.41 L220.18 60.51 L220.05 60.6 L219.92 60.7 L219.79 60.8 L219.66 60.9 L219.53 60.99 L219.4 61.09 L219.27 61.18 L219.14 61.28 L219.01 61.37 L218.88 61.46 L218.74 61.55 L218.61 61.65 L218.48 61.74 L218.35 61.83 L218.23 61.92 L218.1 62 L217.97 62.09 L217.84 62.18 L217.71 62.26 L217.59 62.35 L217.46 62.43 L217.33 62.52 L217.21 62.6 L217.09 62.68 L216.96 62.76 L216.84 62.84 L216.72 62.92 L216.6 63 L216.48 63.08 L216.36 63.15 L216.24 63.23 L216.13 63.3 L216.01 63.38 L215.9 63.45 L215.78 63.52 L215.66 63.59 L215.55 63.66 L215.44 63.73 L215.32 63.8 L215.21 63.86 L215.1 63.93 L214.99 63.99 L214.88 64.06 L214.76 64.12 L214.65 64.19 L214.54 64.25 L214.43 64.31 L214.32 64.37 L214.22 64.43 L214.11 64.5 L214 64.56 L213.89 64.61 L213.78 64.67 L213.67 64.73 L213.56 64.79 L213.46 64.85 L213.35 64.91 L213.24 64.96 L213.13 65.02 L213.03 65.08 L212.92 65.13 L212.81 65.19 L212.71 65.24 L212.6 65.3 L212.49 65.35 L212.39 65.41 L212.28 65.46 L212.18 65.52 L212.07 65.57 L211.97 65.62 L211.87 65.67 L211.77 65.73 L211.66 65.78 L211.56 65.83 L211.46 65.88 L211.36 65.93 L211.26 65.97 L211.16 66.02 L211.06 66.07 L210.96 66.12 L210.86 66.17 L210.76 66.21 L210.66 66.26 L210.56 66.3 L210.45 66.35 L210.35 66.4 L210.25 66.44 L210.15 66.49 L210.05 66.53 L209.95 66.57 L209.85 66.62 L209.74 66.66 L209.64 66.7 L209.54 66.75 L209.43 66.79 L209.33 66.83 L209.22 66.87 L209.12 66.92 L209.01 66.96 L208.9 67 L208.79 67.04 L208.68 67.08 L208.57 67.12 L208.46 67.16 L208.35 67.21 L208.23 67.25 L208.12 67.29 L208.01 67.33 L207.89 67.36 L207.78 67.4 L207.66 67.44 L207.54 67.48 L207.43 67.52 L207.31 67.56 L207.19 67.6 L207.08 67.63 L206.96 67.67 L206.84 67.71 L206.73 67.74 L206.61 67.78 L206.49 67.81 L206.38 67.85 L206.26 67.88 L206.14 67.92 L206.03 67.95 L205.91 67.99 L205.8 68.02 L205.69 68.05 L205.57 68.08 L205.46 68.12 L205.35 68.15 L205.24 68.18 L205.13 68.21 L205.02 68.24 L204.91 68.27 L204.8 68.3 L204.69 68.33 L204.58 68.36 L204.47 68.39 L204.36 68.42 L204.24 68.44 L204.13 68.47 L204.01 68.5 L203.9 68.53 L203.78 68.55 L203.66 68.58 L203.55 68.61 L203.43 68.63 L203.31 68.66 L203.2 68.68 L203.08 68.71 L202.97 68.73 L202.85 68.76 L202.74 68.78 L202.63 68.8 L202.53 68.83 L202.42 68.85 L202.31 68.87 L202.21 68.89 L202.11 68.91 L202.02 68.93 L201.93 68.95 L201.84 68.97 L201.75 68.99 L201.66 69 L201.59 69.02 L201.51 69.03 L201.43 69.05 L201.36 69.07 L201.29 69.08 L201.24 69.09 L201.2 69.1 L201 69.03 L213.03 69.03 L220 92.54 L253.91 92.54 L261.12 69.03 L285.18 69.03 L292.15 92.54 L292.3 91.5 L292.33 90.13 L292.37 88.3 L292.43 86.09 L292.48 83.61 L292.54 80.95 L292.6 78.2 L292.66 75.11 L292.73 71.56 L292.79 67.82 L292.86 64.18 L292.93 60.91 L293 58.3 L293.07 56.46 L293.13 55.19 L293.19 54.29 L293.26 53.57 L293.33 52.84 L293.4 51.9 L293.47 50.83 L293.53 49.8 L293.6 48.76 L293.68 47.65 L293.77 46.42 L293.9 45 L294.05 43.45 L294.22 41.82 L294.41 40.06 L294.62 38.14 L294.85 36 L295.1 33.6 L295.4 30.64 L295.75 27.1 L296.12 23.34 L296.48 19.74 L296.79 16.67 L297 14.5 Z" fill="#eeebfb"/>
<line x1="201.0" y1="82.47" x2="345.3" y2="82.47" stroke="#222" stroke-width="0.8" stroke-dasharray="2.2 2"/>
<path d="M201 69.03 L213.03 69.03 L220 92.54 L253.91 92.54 L261.12 69.03 L285.18 69.03 L292.15 92.54 L326.42 92.54 L333.88 69.03 L345.3 69.03" fill="none" stroke="#555" stroke-width="1.1"/>
<path d="M220 92.2 L220.06 91.24 L220.14 89.9 L220.23 88.32 L220.35 86.64 L220.51 85.02 L220.7 83.6 L220.92 82.37 L221.17 81.22 L221.44 80.12 L221.77 79.06 L222.15 77.99 L222.6 76.9 L223.13 75.81 L223.73 74.74 L224.38 73.68 L225.09 72.6 L225.83 71.48 L226.6 70.3 L227.43 69.06 L228.33 67.79 L229.26 66.47 L230.21 65.11 L231.13 63.72 L232 62.3 L232.83 60.81 L233.64 59.25 L234.44 57.65 L235.2 56.05 L235.92 54.49 L236.6 53 L237.22 51.58 L237.77 50.2 L238.29 48.85 L238.79 47.54 L239.29 46.25 L239.8 45 L240.29 43.84 L240.74 42.79 L241.19 41.76 L241.68 40.69 L242.23 39.5 L242.9 38.1 L243.7 36.47 L244.6 34.66 L245.58 32.73 L246.6 30.73 L247.61 28.7 L248.6 26.7 L249.63 24.57 L250.74 22.24 L251.86 19.89 L252.89 17.69 L253.77 15.84 L254.4 14.5" fill="none" stroke="#b84050" stroke-width="0.9" stroke-linejoin="round"/>
<path d="M232 92.2 L232 91.26 L231.99 89.95 L231.99 88.4 L232.01 86.74 L232.07 85.1 L232.2 83.6 L232.38 82.25 L232.6 80.94 L232.87 79.64 L233.19 78.34 L233.56 77 L234 75.6 L234.51 74.16 L235.08 72.71 L235.71 71.22 L236.4 69.67 L237.13 68.04 L237.9 66.3 L238.77 64.38 L239.74 62.28 L240.76 60.1 L241.76 57.93 L242.7 55.86 L243.5 54 L244.15 52.35 L244.69 50.84 L245.15 49.44 L245.58 48.11 L246.02 46.81 L246.5 45.5 L247 44.25 L247.48 43.1 L247.96 41.98 L248.48 40.82 L249.05 39.55 L249.7 38.1 L250.45 36.44 L251.28 34.63 L252.17 32.7 L253.09 30.71 L254 28.69 L254.9 26.7 L255.84 24.57 L256.86 22.24 L257.88 19.89 L258.82 17.69 L259.62 15.84 L260.2 14.5" fill="none" stroke="#b84050" stroke-width="0.9" stroke-linejoin="round"/>
<path d="M244.6 92.2 L244.62 91.12 L244.63 89.63 L244.64 87.86 L244.69 85.95 L244.77 84.02 L244.9 82.2 L245.08 80.47 L245.28 78.71 L245.52 76.94 L245.81 75.16 L246.17 73.37 L246.6 71.6 L247.15 69.81 L247.83 68.01 L248.57 66.2 L249.31 64.41 L250.01 62.67 L250.6 61 L251.08 59.38 L251.48 57.81 L251.84 56.27 L252.16 54.79 L252.48 53.37 L252.8 52 L253.12 50.72 L253.42 49.51 L253.71 48.37 L254 47.25 L254.29 46.14 L254.6 45 L254.89 43.9 L255.16 42.86 L255.43 41.82 L255.74 40.73 L256.12 39.51 L256.6 38.1 L257.19 36.47 L257.88 34.66 L258.63 32.73 L259.43 30.73 L260.26 28.7 L261.1 26.7 L262.02 24.57 L263.06 22.24 L264.13 19.89 L265.14 17.69 L265.99 15.84 L266.6 14.5" fill="none" stroke="#b84050" stroke-width="0.9" stroke-linejoin="round"/>
<path d="M255.9 85.6 L255.96 84.49 L256.04 82.93 L256.14 81.1 L256.27 79.16 L256.42 77.27 L256.6 75.6 L256.83 74.15 L257.1 72.77 L257.4 71.45 L257.71 70.16 L258.02 68.89 L258.3 67.6 L258.56 66.32 L258.81 65.06 L259.05 63.81 L259.29 62.56 L259.54 61.29 L259.8 60 L260.06 58.7 L260.3 57.4 L260.56 56.09 L260.83 54.75 L261.14 53.36 L261.5 51.9 L261.92 50.34 L262.4 48.68 L262.91 46.97 L263.44 45.26 L263.97 43.58 L264.5 42 L265.03 40.53 L265.58 39.13 L266.13 37.78 L266.68 36.43 L267.2 35.05 L267.7 33.6 L268.15 32.07 L268.57 30.49 L268.98 28.87 L269.37 27.24 L269.77 25.61 L270.2 24 L270.68 22.3 L271.21 20.47 L271.76 18.65 L272.26 16.96 L272.69 15.53 L273 14.5" fill="none" stroke="#b84050" stroke-width="0.9" stroke-linejoin="round"/>
<path d="M270.6 68.9 L270.68 67.7 L270.79 66 L270.92 64 L271.06 61.91 L271.19 59.95 L271.3 58.3 L271.39 57 L271.47 55.87 L271.54 54.87 L271.62 53.91 L271.7 52.95 L271.8 51.9 L271.9 50.83 L271.98 49.8 L272.08 48.76 L272.2 47.65 L272.36 46.42 L272.6 45 L272.9 43.45 L273.26 41.82 L273.66 40.06 L274.1 38.14 L274.58 36 L275.1 33.6 L275.71 30.64 L276.44 27.1 L277.21 23.34 L277.94 19.74 L278.56 16.67 L279 14.5" fill="none" stroke="#b84050" stroke-width="0.9" stroke-linejoin="round"/>
<path d="M279.5 68.9 L279.56 67.7 L279.64 66 L279.74 64 L279.84 61.91 L279.93 59.95 L280 58.3 L280.04 57 L280.07 55.87 L280.08 54.87 L280.1 53.91 L280.14 52.95 L280.2 51.9 L280.29 50.83 L280.4 49.8 L280.53 48.76 L280.67 47.65 L280.83 46.42 L281 45 L281.17 43.45 L281.34 41.82 L281.53 40.06 L281.74 38.14 L282 36 L282.3 33.6 L282.7 30.64 L283.2 27.1 L283.73 23.34 L284.25 19.74 L284.69 16.67 L285 14.5" fill="none" stroke="#b84050" stroke-width="0.9" stroke-linejoin="round"/>
<path d="M286.6 74.3 L286.64 72.98 L286.7 71.13 L286.76 68.95 L286.84 66.63 L286.92 64.35 L287 62.3 L287.09 60.43 L287.19 58.59 L287.3 56.78 L287.41 55.05 L287.51 53.41 L287.6 51.9 L287.67 50.6 L287.71 49.51 L287.75 48.51 L287.8 47.5 L287.88 46.37 L288 45 L288.17 43.45 L288.38 41.82 L288.61 40.06 L288.87 38.14 L289.13 36 L289.4 33.6 L289.7 30.64 L290.04 27.1 L290.39 23.34 L290.72 19.74 L291 16.67 L291.2 14.5" fill="none" stroke="#b84050" stroke-width="0.9" stroke-linejoin="round"/>
<path d="M292.3 91.5 L292.33 90.13 L292.37 88.3 L292.43 86.09 L292.48 83.61 L292.54 80.95 L292.6 78.2 L292.66 75.11 L292.73 71.56 L292.79 67.82 L292.86 64.18 L292.93 60.91 L293 58.3 L293.07 56.46 L293.13 55.19 L293.19 54.29 L293.26 53.57 L293.33 52.84 L293.4 51.9 L293.47 50.83 L293.53 49.8 L293.6 48.76 L293.68 47.65 L293.77 46.42 L293.9 45 L294.05 43.45 L294.22 41.82 L294.41 40.06 L294.62 38.14 L294.85 36 L295.1 33.6 L295.4 30.64 L295.75 27.1 L296.12 23.34 L296.48 19.74 L296.79 16.67 L297 14.5" fill="none" stroke="#b84050" stroke-width="0.9" stroke-linejoin="round"/>
<path d="M201.2 69.1 L201.24 69.09 L201.29 69.08 L201.36 69.07 L201.43 69.05 L201.51 69.03 L201.59 69.02 L201.66 69 L201.75 68.99 L201.84 68.97 L201.93 68.95 L202.02 68.93 L202.11 68.91 L202.21 68.89 L202.31 68.87 L202.42 68.85 L202.53 68.83 L202.63 68.8 L202.74 68.78 L202.85 68.76 L202.97 68.73 L203.08 68.71 L203.2 68.68 L203.31 68.66 L203.43 68.63 L203.55 68.61 L203.66 68.58 L203.78 68.55 L203.9 68.53 L204.01 68.5 L204.13 68.47 L204.24 68.44 L204.36 68.42 L204.47 68.39 L204.58 68.36 L204.69 68.33 L204.8 68.3 L204.91 68.27 L205.02 68.24 L205.13 68.21 L205.24 68.18 L205.35 68.15 L205.46 68.12 L205.57 68.08 L205.69 68.05 L205.8 68.02 L205.91 67.99 L206.03 67.95 L206.14 67.92 L206.26 67.88 L206.38 67.85 L206.49 67.81 L206.61 67.78 L206.73 67.74 L206.84 67.71 L206.96 67.67 L207.08 67.63 L207.19 67.6 L207.31 67.56 L207.43 67.52 L207.54 67.48 L207.66 67.44 L207.78 67.4 L207.89 67.36 L208.01 67.33 L208.12 67.29 L208.23 67.25 L208.35 67.21 L208.46 67.16 L208.57 67.12 L208.68 67.08 L208.79 67.04 L208.9 67 L209.01 66.96 L209.12 66.92 L209.22 66.87 L209.33 66.83 L209.43 66.79 L209.54 66.75 L209.64 66.7 L209.74 66.66 L209.85 66.62 L209.95 66.57 L210.05 66.53 L210.15 66.49 L210.25 66.44 L210.35 66.4 L210.45 66.35 L210.56 66.3 L210.66 66.26 L210.76 66.21 L210.86 66.17 L210.96 66.12 L211.06 66.07 L211.16 66.02 L211.26 65.97 L211.36 65.93 L211.46 65.88 L211.56 65.83 L211.66 65.78 L211.77 65.73 L211.87 65.67 L211.97 65.62 L212.07 65.57 L212.18 65.52 L212.28 65.46 L212.39 65.41 L212.49 65.35 L212.6 65.3 L212.71 65.24 L212.81 65.19 L212.92 65.13 L213.03 65.08 L213.13 65.02 L213.24 64.96 L213.35 64.91 L213.46 64.85 L213.56 64.79 L213.67 64.73 L213.78 64.67 L213.89 64.61 L214 64.56 L214.11 64.5 L214.22 64.43 L214.32 64.37 L214.43 64.31 L214.54 64.25 L214.65 64.19 L214.76 64.12 L214.88 64.06 L214.99 63.99 L215.1 63.93 L215.21 63.86 L215.32 63.8 L215.44 63.73 L215.55 63.66 L215.66 63.59 L215.78 63.52 L215.9 63.45 L216.01 63.38 L216.13 63.3 L216.24 63.23 L216.36 63.15 L216.48 63.08 L216.6 63 L216.72 62.92 L216.84 62.84 L216.96 62.76 L217.09 62.68 L217.21 62.6 L217.33 62.52 L217.46 62.43 L217.59 62.35 L217.71 62.26 L217.84 62.18 L217.97 62.09 L218.1 62 L218.23 61.92 L218.35 61.83 L218.48 61.74 L218.61 61.65 L218.74 61.55 L218.88 61.46 L219.01 61.37 L219.14 61.28 L219.27 61.18 L219.4 61.09 L219.53 60.99 L219.66 60.9 L219.79 60.8 L219.92 60.7 L220.05 60.6 L220.18 60.51 L220.31 60.41 L220.44 60.31 L220.57 60.21 L220.69 60.11 L220.82 60.01 L220.95 59.91 L221.07 59.8 L221.2 59.7 L221.33 59.6 L221.45 59.49 L221.58 59.39 L221.7 59.28 L221.82 59.17 L221.95 59.07 L222.07 58.96 L222.2 58.85 L222.32 58.74 L222.45 58.63 L222.57 58.52 L222.69 58.41 L222.82 58.3 L222.94 58.18 L223.06 58.07 L223.19 57.95 L223.31 57.84 L223.43 57.73 L223.55 57.61 L223.68 57.49 L223.8 57.38 L223.92 57.26 L224.04 57.14 L224.16 57.03 L224.28 56.91 L224.41 56.79 L224.53 56.67 L224.65 56.55 L224.77 56.43 L224.89 56.32 L225.01 56.2 L225.13 56.08 L225.24 55.96 L225.36 55.84 L225.48 55.72 L225.6 55.6 L225.72 55.48 L225.84 55.36 L225.96 55.24 L226.07 55.12 L226.19 54.99 L226.31 54.87 L226.43 54.75 L226.55 54.62 L226.67 54.5 L226.79 54.37 L226.9 54.25 L227.02 54.12 L227.14 54 L227.26 53.87 L227.38 53.74 L227.49 53.62 L227.61 53.49 L227.72 53.36 L227.84 53.24 L227.96 53.11 L228.07 52.98 L228.18 52.85 L228.3 52.73 L228.41 52.6 L228.52 52.47 L228.63 52.35 L228.75 52.22 L228.86 52.09 L228.96 51.97 L229.07 51.84 L229.18 51.72 L229.29 51.59 L229.39 51.47 L229.49 51.35 L229.6 51.22 L229.7 51.1 L229.8 50.98 L229.9 50.86 L230 50.74 L230.1 50.62 L230.19 50.5 L230.29 50.38 L230.39 50.26 L230.48 50.15 L230.57 50.03 L230.67 49.91 L230.76 49.8 L230.85 49.68 L230.94 49.57 L231.03 49.45 L231.12 49.33 L231.21 49.22 L231.29 49.1 L231.38 48.99 L231.47 48.87 L231.55 48.75 L231.64 48.64 L231.73 48.52 L231.81 48.4 L231.9 48.29 L231.98 48.17 L232.07 48.05 L232.15 47.93 L232.23 47.81 L232.32 47.68 L232.4 47.56 L232.48 47.44 L232.57 47.31 L232.65 47.18 L232.73 47.06 L232.82 46.93 L232.9 46.8 L232.98 46.67 L233.06 46.54 L233.14 46.41 L233.22 46.28 L233.3 46.14 L233.38 46.01 L233.46 45.88 L233.54 45.74 L233.61 45.61 L233.69 45.47 L233.77 45.34 L233.84 45.2 L233.92 45.06 L233.99 44.93 L234.06 44.79 L234.14 44.65 L234.21 44.51 L234.29 44.37 L234.36 44.23 L234.44 44.09 L234.51 43.94 L234.59 43.8 L234.66 43.66 L234.74 43.51 L234.81 43.37 L234.89 43.22 L234.97 43.07 L235.04 42.92 L235.12 42.77 L235.2 42.62 L235.28 42.47 L235.37 42.32 L235.45 42.16 L235.53 42.01 L235.62 41.85 L235.7 41.7 L235.78 41.55 L235.87 41.39 L235.96 41.24 L236.04 41.08 L236.13 40.93 L236.22 40.77 L236.3 40.62 L236.39 40.47 L236.47 40.31 L236.56 40.16 L236.65 40.01 L236.74 39.85 L236.83 39.7 L236.91 39.54 L237 39.38 L237.09 39.22 L237.18 39.06 L237.28 38.9 L237.37 38.74 L237.46 38.57 L237.55 38.4 L237.65 38.23 L237.74 38.06 L237.84 37.88 L237.94 37.7 L238.04 37.52 L238.14 37.34 L238.24 37.15 L238.34 36.96 L238.45 36.76 L238.55 36.56 L238.66 36.36 L238.77 36.15 L238.88 35.94 L238.99 35.72 L239.1 35.5 L239.22 35.27 L239.33 35.04 L239.45 34.81 L239.57 34.57 L239.69 34.32 L239.82 34.08 L239.94 33.83 L240.07 33.57 L240.19 33.31 L240.32 33.05 L240.45 32.79 L240.59 32.52 L240.72 32.25 L240.85 31.97 L240.99 31.7 L241.12 31.42 L241.26 31.14 L241.39 30.86 L241.53 30.57 L241.67 30.29 L241.81 30 L241.95 29.71 L242.09 29.42 L242.23 29.13 L242.37 28.83 L242.51 28.54 L242.65 28.25 L242.79 27.95 L242.93 27.66 L243.07 27.36 L243.21 27.07 L243.34 26.78 L243.48 26.49 L243.62 26.2 L243.76 25.9 L243.9 25.6 L244.04 25.29 L244.19 24.98 L244.34 24.67 L244.49 24.35 L244.64 24.02 L244.79 23.69 L244.95 23.35 L245.11 23 L245.27 22.65 L245.44 22.29 L245.6 21.93 L245.77 21.58 L245.93 21.22 L246.1 20.86 L246.26 20.5 L246.43 20.14 L246.59 19.78 L246.75 19.43 L246.91 19.08 L247.07 18.74 L247.22 18.4 L247.37 18.06 L247.52 17.74 L247.67 17.42 L247.81 17.12 L247.94 16.81 L248.08 16.52 L248.2 16.24 L248.33 15.97 L248.44 15.72 L248.55 15.48 L248.66 15.23 L248.77 15 L248.86 14.8 L248.94 14.63 L249 14.5" fill="none" stroke="#3a3ad0" stroke-width="0.9"/>
<circle cx="220" cy="92.2" r="1.3" fill="#b0102a"/>
<circle cx="232" cy="92.2" r="1.3" fill="#b0102a"/>
<circle cx="244.6" cy="92.2" r="1.3" fill="#b0102a"/>
<circle cx="255.9" cy="85.6" r="1.3" fill="#b0102a"/>
<circle cx="270.6" cy="68.9" r="1.3" fill="#b0102a"/>
<circle cx="279.5" cy="68.9" r="1.3" fill="#b0102a"/>
<circle cx="286.6" cy="74.3" r="1.3" fill="#b0102a"/>
<circle cx="292.3" cy="91.5" r="1.3" fill="#b0102a"/>
</g>
<line x1="201" y1="97.5" x2="201" y2="95.5" stroke="#666" stroke-width="0.8"/>
<line x1="201" y1="15.2" x2="201" y2="17.2" stroke="#666" stroke-width="0.8"/>
<text x="201" y="105.5" font-size="7.4" text-anchor="middle" fill="#111" stroke="#111" >0</text>
<line x1="225.05" y1="97.5" x2="225.05" y2="95.5" stroke="#666" stroke-width="0.8"/>
<line x1="225.05" y1="15.2" x2="225.05" y2="17.2" stroke="#666" stroke-width="0.8"/>
<text x="225.05" y="105.5" font-size="7.4" text-anchor="middle" fill="#111" stroke="#111" >2</text>
<line x1="249.1" y1="97.5" x2="249.1" y2="95.5" stroke="#666" stroke-width="0.8"/>
<line x1="249.1" y1="15.2" x2="249.1" y2="17.2" stroke="#666" stroke-width="0.8"/>
<text x="249.1" y="105.5" font-size="7.4" text-anchor="middle" fill="#111" stroke="#111" >4</text>
<line x1="273.15" y1="97.5" x2="273.15" y2="95.5" stroke="#666" stroke-width="0.8"/>
<line x1="273.15" y1="15.2" x2="273.15" y2="17.2" stroke="#666" stroke-width="0.8"/>
<text x="273.15" y="105.5" font-size="7.4" text-anchor="middle" fill="#111" stroke="#111" >6</text>
<line x1="297.2" y1="97.5" x2="297.2" y2="95.5" stroke="#666" stroke-width="0.8"/>
<line x1="297.2" y1="15.2" x2="297.2" y2="17.2" stroke="#666" stroke-width="0.8"/>
<text x="297.2" y="105.5" font-size="7.4" text-anchor="middle" fill="#111" stroke="#111" >8</text>
<line x1="321.25" y1="97.5" x2="321.25" y2="95.5" stroke="#666" stroke-width="0.8"/>
<line x1="321.25" y1="15.2" x2="321.25" y2="17.2" stroke="#666" stroke-width="0.8"/>
<text x="321.25" y="105.5" font-size="7.4" text-anchor="middle" fill="#111" stroke="#111" >10</text>
<line x1="345.3" y1="97.5" x2="345.3" y2="95.5" stroke="#666" stroke-width="0.8"/>
<line x1="345.3" y1="15.2" x2="345.3" y2="17.2" stroke="#666" stroke-width="0.8"/>
<text x="345.3" y="105.5" font-size="7.4" text-anchor="middle" fill="#111" stroke="#111" >12</text>
<line x1="201" y1="95.9" x2="203" y2="95.9" stroke="#666" stroke-width="0.8"/>
<line x1="345.3" y1="95.9" x2="343.3" y2="95.9" stroke="#666" stroke-width="0.8"/>
<text x="197.7" y="98.2" font-size="7.4" text-anchor="end" fill="#111" stroke="#111" >&#8722;4</text>
<line x1="201" y1="82.47" x2="203" y2="82.47" stroke="#666" stroke-width="0.8"/>
<line x1="345.3" y1="82.47" x2="343.3" y2="82.47" stroke="#666" stroke-width="0.8"/>
<text x="197.7" y="84.77" font-size="7.4" text-anchor="end" fill="#111" stroke="#111" >&#8722;2</text>
<line x1="201" y1="69.03" x2="203" y2="69.03" stroke="#666" stroke-width="0.8"/>
<line x1="345.3" y1="69.03" x2="343.3" y2="69.03" stroke="#666" stroke-width="0.8"/>
<text x="197.7" y="71.33" font-size="7.4" text-anchor="end" fill="#111" stroke="#111" >0</text>
<line x1="201" y1="55.6" x2="203" y2="55.6" stroke="#666" stroke-width="0.8"/>
<line x1="345.3" y1="55.6" x2="343.3" y2="55.6" stroke="#666" stroke-width="0.8"/>
<text x="197.7" y="57.9" font-size="7.4" text-anchor="end" fill="#111" stroke="#111" >2</text>
<line x1="201" y1="42.17" x2="203" y2="42.17" stroke="#666" stroke-width="0.8"/>
<line x1="345.3" y1="42.17" x2="343.3" y2="42.17" stroke="#666" stroke-width="0.8"/>
<text x="197.7" y="44.47" font-size="7.4" text-anchor="end" fill="#111" stroke="#111" >4</text>
<line x1="201" y1="28.73" x2="203" y2="28.73" stroke="#666" stroke-width="0.8"/>
<line x1="345.3" y1="28.73" x2="343.3" y2="28.73" stroke="#666" stroke-width="0.8"/>
<text x="197.7" y="31.03" font-size="7.4" text-anchor="end" fill="#111" stroke="#111" >6</text>
<line x1="201" y1="15.3" x2="203" y2="15.3" stroke="#666" stroke-width="0.8"/>
<line x1="345.3" y1="15.3" x2="343.3" y2="15.3" stroke="#666" stroke-width="0.8"/>
<text x="197.7" y="17.6" font-size="7.4" text-anchor="end" fill="#111" stroke="#111" >8</text>
<rect x="201" y="15.2" width="144.3" height="82.3" fill="none" stroke="#9a9a9a" stroke-width="1.25"/>
<circle cx="201.3" cy="69.1" r="1.5" fill="#1a1aaa"/>
<text x="149.6" y="25.8" font-size="7.8" text-anchor="end" fill="#111" stroke="#111" ><tspan font-style="italic">t</tspan> = 0</text>
<line x1="153" y1="23.4" x2="161.7" y2="23.4" stroke="#6a6ad6" stroke-width="1.2"/>
<text x="326.8" y="25.8" font-size="7.8" text-anchor="end" fill="#111" stroke="#111" ><tspan font-style="italic">t</tspan> = 0</text>
<line x1="330.3" y1="23.4" x2="339.4" y2="23.4" stroke="#6a6ad6" stroke-width="1.2"/>
<line x1="24.5" y1="225.9" x2="24.5" y2="223.9" stroke="#666" stroke-width="0.8"/>
<line x1="24.5" y1="143.8" x2="24.5" y2="145.8" stroke="#666" stroke-width="0.8"/>
<text x="19.8" y="233.9" font-size="7.4" text-anchor="middle" fill="#111" stroke="#111" >0</text>
<line x1="60.7" y1="225.9" x2="60.7" y2="223.9" stroke="#666" stroke-width="0.8"/>
<line x1="60.7" y1="143.8" x2="60.7" y2="145.8" stroke="#666" stroke-width="0.8"/>
<text x="60.7" y="233.9" font-size="7.4" text-anchor="middle" fill="#111" stroke="#111" >10</text>
<line x1="96.9" y1="225.9" x2="96.9" y2="223.9" stroke="#666" stroke-width="0.8"/>
<line x1="96.9" y1="143.8" x2="96.9" y2="145.8" stroke="#666" stroke-width="0.8"/>
<text x="96.9" y="233.9" font-size="7.4" text-anchor="middle" fill="#111" stroke="#111" >20</text>
<line x1="133.1" y1="225.9" x2="133.1" y2="223.9" stroke="#666" stroke-width="0.8"/>
<line x1="133.1" y1="143.8" x2="133.1" y2="145.8" stroke="#666" stroke-width="0.8"/>
<text x="133.1" y="233.9" font-size="7.4" text-anchor="middle" fill="#111" stroke="#111" >30</text>
<line x1="169.3" y1="225.9" x2="169.3" y2="223.9" stroke="#666" stroke-width="0.8"/>
<line x1="169.3" y1="143.8" x2="169.3" y2="145.8" stroke="#666" stroke-width="0.8"/>
<text x="169.3" y="233.9" font-size="7.4" text-anchor="middle" fill="#111" stroke="#111" >40</text>
<line x1="24.5" y1="225.9" x2="26.5" y2="225.9" stroke="#666" stroke-width="0.8"/>
<line x1="169.3" y1="225.9" x2="167.3" y2="225.9" stroke="#666" stroke-width="0.8"/>
<line x1="24.5" y1="212.22" x2="26.5" y2="212.22" stroke="#666" stroke-width="0.8"/>
<line x1="169.3" y1="212.22" x2="167.3" y2="212.22" stroke="#666" stroke-width="0.8"/>
<text x="21.2" y="214.52" font-size="7.4" text-anchor="end" fill="#111" stroke="#111" >2</text>
<line x1="24.5" y1="198.53" x2="26.5" y2="198.53" stroke="#666" stroke-width="0.8"/>
<line x1="169.3" y1="198.53" x2="167.3" y2="198.53" stroke="#666" stroke-width="0.8"/>
<text x="21.2" y="200.83" font-size="7.4" text-anchor="end" fill="#111" stroke="#111" >4</text>
<line x1="24.5" y1="184.85" x2="26.5" y2="184.85" stroke="#666" stroke-width="0.8"/>
<line x1="169.3" y1="184.85" x2="167.3" y2="184.85" stroke="#666" stroke-width="0.8"/>
<text x="21.2" y="187.15" font-size="7.4" text-anchor="end" fill="#111" stroke="#111" >6</text>
<line x1="24.5" y1="171.17" x2="26.5" y2="171.17" stroke="#666" stroke-width="0.8"/>
<line x1="169.3" y1="171.17" x2="167.3" y2="171.17" stroke="#666" stroke-width="0.8"/>
<text x="21.2" y="173.47" font-size="7.4" text-anchor="end" fill="#111" stroke="#111" >8</text>
<line x1="24.5" y1="157.48" x2="26.5" y2="157.48" stroke="#666" stroke-width="0.8"/>
<line x1="169.3" y1="157.48" x2="167.3" y2="157.48" stroke="#666" stroke-width="0.8"/>
<text x="21.2" y="159.78" font-size="7.4" text-anchor="end" fill="#111" stroke="#111" >10</text>
<line x1="24.5" y1="143.8" x2="26.5" y2="143.8" stroke="#666" stroke-width="0.8"/>
<line x1="169.3" y1="143.8" x2="167.3" y2="143.8" stroke="#666" stroke-width="0.8"/>
<text x="21.2" y="146.1" font-size="7.4" text-anchor="end" fill="#111" stroke="#111" >12</text>
<rect x="24.5" y="143.8" width="144.8" height="82.1" fill="none" stroke="#9a9a9a" stroke-width="1.25"/>
<clipPath id="cpC"><rect x="24.5" y="143.8" width="144.8" height="82.1"/></clipPath>
<g clip-path="url(#cpC)">
<line x1="74.98" y1="143.8" x2="74.98" y2="225.9" stroke="#d4ccf8" stroke-width="0.7"/>
<line x1="24.5" y1="190.43" x2="74.98" y2="190.43" stroke="#d4ccf8" stroke-width="0.7"/>
<path d="M25 223.4 L25.5 223.01 L26.17 222.46 L26.98 221.81 L27.86 221.13 L28.79 220.51 L29.7 220 L30.61 219.63 L31.54 219.34 L32.51 219.1 L33.53 218.87 L34.59 218.62 L35.7 218.3 L36.91 217.92 L38.23 217.49 L39.6 217.04 L40.96 216.58 L42.24 216.13 L43.4 215.7 L44.42 215.32 L45.35 214.98 L46.21 214.64 L47.02 214.29 L47.81 213.88 L48.6 213.4 L49.37 212.82 L50.1 212.16 L50.81 211.46 L51.51 210.73 L52.24 210 L53 209.3 L53.81 208.63 L54.65 207.96 L55.51 207.3 L56.38 206.64 L57.25 205.97 L58.1 205.3 L58.94 204.62 L59.77 203.94 L60.6 203.25 L61.43 202.56 L62.26 201.88 L63.1 201.2 L63.94 200.52 L64.78 199.82 L65.62 199.13 L66.47 198.46 L67.33 197.81 L68.2 197.2 L69.14 196.65 L70.16 196.16 L71.18 195.69 L72.16 195.22 L73.02 194.73 L73.7 194.2 L74.19 193.57 L74.52 192.85 L74.74 192.11 L74.89 191.41 L75 190.82 L75.1 190.4 L75.1 190.4 L75.16 189.92 L75.21 189.26 L75.29 188.47 L75.41 187.63 L75.57 186.82 L75.8 186.1 L76.11 185.46 L76.51 184.85 L76.95 184.26 L77.41 183.69 L77.87 183.14 L78.3 182.6 L78.67 182.07 L79 181.57 L79.32 181.07 L79.68 180.6 L80.09 180.14 L80.6 179.7 L81.17 179.29 L81.76 178.92 L82.42 178.57 L83.17 178.21 L84.05 177.83 L85.1 177.4 L86.31 176.93 L87.65 176.45 L89.12 175.94 L90.73 175.4 L92.45 174.82 L94.3 174.2 L96.3 173.52 L98.45 172.79 L100.73 172.02 L103.1 171.22 L105.53 170.41 L108 169.6 L110.16 168.92 L111.98 168.4 L113.86 167.86 L116.21 167.14 L119.45 166.07 L124 164.5 L130.7 162.1 L139.41 158.94 L149 155.43 L158.37 152 L166.41 149.05 L172 147" fill="none" stroke="#8a72e6" stroke-width="1.0" stroke-linejoin="round"/>
<path d="M25 223.4 L25.4 222.91 L25.93 222.22 L26.57 221.41 L27.3 220.56 L28.08 219.76 L28.9 219.1 L29.78 218.6 L30.74 218.2 L31.77 217.85 L32.82 217.5 L33.88 217.1 L34.9 216.6 L35.9 216 L36.9 215.33 L37.9 214.62 L38.9 213.87 L39.9 213.09 L40.9 212.3 L41.9 211.49 L42.9 210.66 L43.89 209.8 L44.89 208.92 L45.89 208.02 L46.9 207.1 L47.92 206.13 L48.96 205.1 L50.01 204.04 L51.04 203.01 L52.04 202.05 L53 201.2 L53.92 200.48 L54.81 199.86 L55.68 199.3 L56.52 198.78 L57.33 198.26 L58.1 197.7 L58.85 197.12 L59.59 196.56 L60.29 195.99 L60.95 195.41 L61.56 194.82 L62.1 194.2 L62.56 193.54 L62.94 192.86 L63.27 192.15 L63.58 191.44 L63.88 190.76 L64.2 190.1 L64.52 189.49 L64.8 188.91 L65.08 188.34 L65.39 187.78 L65.75 187.21 L66.2 186.6 L66.74 185.95 L67.34 185.27 L68.01 184.58 L68.71 183.89 L69.45 183.22 L70.2 182.6 L70.93 182.05 L71.64 181.55 L72.39 181.07 L73.21 180.6 L74.17 180.08 L75.3 179.5 L76.51 178.9 L77.73 178.31 L79.09 177.68 L80.69 176.97 L82.65 176.13 L85.1 175.1 L88.24 173.81 L92.02 172.26 L96.16 170.59 L100.39 168.89 L104.43 167.29 L108 165.9 L110.7 164.87 L112.66 164.15 L114.43 163.53 L116.55 162.78 L119.56 161.71 L124 160.1 L130.7 157.65 L139.41 154.46 L149 150.94 L158.37 147.5 L166.41 144.55 L172 142.5" fill="none" stroke="#f29a4a" stroke-width="1.0" stroke-linejoin="round"/>
<path d="M25 223.4 L25.42 222.73 L26 221.78 L26.69 220.67 L27.43 219.5 L28.19 218.37 L28.9 217.4 L29.56 216.6 L30.21 215.9 L30.87 215.25 L31.56 214.6 L32.29 213.9 L33.1 213.1 L34 212.2 L34.97 211.23 L35.99 210.21 L37.03 209.16 L38.08 208.12 L39.1 207.1 L40.08 206.12 L41.03 205.17 L41.98 204.22 L42.96 203.24 L43.99 202.21 L45.1 201.1 L46.34 199.87 L47.7 198.52 L49.11 197.12 L50.5 195.73 L51.82 194.41 L53 193.2 L54.01 192.12 L54.91 191.12 L55.73 190.19 L56.51 189.3 L57.29 188.44 L58.1 187.6 L58.94 186.76 L59.77 185.95 L60.6 185.16 L61.43 184.42 L62.26 183.73 L63.1 183.1 L63.91 182.56 L64.68 182.12 L65.46 181.72 L66.27 181.35 L67.18 180.95 L68.2 180.5 L69.31 180.02 L70.47 179.54 L71.71 179.04 L73.07 178.5 L74.59 177.9 L76.3 177.2 L78.21 176.41 L80.29 175.56 L82.53 174.63 L84.91 173.64 L87.4 172.6 L90 171.5 L92.77 170.3 L95.76 169 L98.86 167.63 L101.99 166.26 L105.07 164.93 L108 163.7 L110.42 162.7 L112.33 161.93 L114.19 161.21 L116.44 160.34 L119.56 159.17 L124 157.5 L130.58 155.03 L139.11 151.86 L148.5 148.36 L157.67 144.96 L165.53 142.03 L171 140" fill="none" stroke="#3f9a40" stroke-width="1.0" stroke-linejoin="round"/>
<path d="M25 223.4 L25.21 222.75 L25.49 221.84 L25.83 220.78 L26.22 219.62 L26.64 218.47 L27.1 217.4 L27.59 216.39 L28.13 215.37 L28.71 214.34 L29.32 213.33 L29.95 212.35 L30.6 211.4 L31.27 210.49 L31.98 209.6 L32.71 208.74 L33.44 207.91 L34.18 207.09 L34.9 206.3 L35.57 205.56 L36.21 204.87 L36.84 204.21 L37.5 203.53 L38.24 202.81 L39.1 202 L40.09 201.1 L41.2 200.12 L42.38 199.1 L43.59 198.06 L44.81 197.01 L46 196 L47.18 194.99 L48.4 193.97 L49.61 192.96 L50.8 191.96 L51.94 191 L53 190.1 L53.96 189.26 L54.84 188.46 L55.67 187.7 L56.48 186.97 L57.28 186.28 L58.1 185.6 L58.94 184.95 L59.77 184.33 L60.6 183.73 L61.43 183.16 L62.26 182.62 L63.1 182.1 L63.95 181.61 L64.8 181.16 L65.65 180.74 L66.5 180.33 L67.35 179.92 L68.2 179.5 L68.96 179.12 L69.62 178.79 L70.28 178.46 L71.03 178.09 L71.97 177.62 L73.2 177 L74.82 176.18 L76.76 175.17 L78.89 174.08 L81.08 172.96 L83.19 171.91 L85.1 171 L86.74 170.27 L88.2 169.66 L89.59 169.12 L91 168.58 L92.54 167.99 L94.3 167.3 L96.3 166.49 L98.45 165.62 L100.73 164.7 L103.1 163.74 L105.53 162.77 L108 161.8 L110.35 160.89 L112.57 160.04 L114.86 159.17 L117.4 158.21 L120.38 157.08 L124 155.7 L128.6 153.94 L134.11 151.84 L140.06 149.57 L146 147.31 L151.47 145.23 L156 143.5 L159.66 142.11 L162.81 140.91 L165.5 139.89 L167.74 139.04 L169.56 138.34 L171 137.8" fill="none" stroke="#e040e0" stroke-width="1.0" stroke-linejoin="round"/>
<circle cx="74.98" cy="190.43" r="1.3" fill="#5a3ae0"/>
</g>
<text x="148.6" y="186.2" font-size="7.9" text-anchor="end" fill="#111" stroke="#111" ><tspan font-style="italic">H</tspan> = <tspan font-style="italic">π</tspan>/(<tspan font-style="italic">π</tspan>−1)</text>
<line x1="150.5" y1="184.2" x2="160" y2="184.2" stroke="#f09af0" stroke-width="1.3"/>
<text x="148.6" y="197.6" font-size="7.9" text-anchor="end" fill="#111" stroke="#111" ><tspan font-style="italic">H</tspan> = (2<tspan font-style="italic">π</tspan>)/(<tspan font-style="italic">π</tspan>−1)</text>
<line x1="150.5" y1="195.6" x2="160" y2="195.6" stroke="#3f9a40" stroke-width="1.3"/>
<text x="148.6" y="209" font-size="7.9" text-anchor="end" fill="#111" stroke="#111" ><tspan font-style="italic">H</tspan> = (4<tspan font-style="italic">π</tspan>)/(<tspan font-style="italic">π</tspan>−1)</text>
<line x1="150.5" y1="207" x2="160" y2="207" stroke="#f2a05a" stroke-width="1.3"/>
<text x="148.6" y="220.4" font-size="7.9" text-anchor="end" fill="#111" stroke="#111" ><tspan font-style="italic">H<tspan font-size="5.6" dy="1.6">max</tspan></tspan><tspan dy="-1.6"> = 9.851</tspan></text>
<line x1="150.5" y1="218.4" x2="160" y2="218.4" stroke="#9a8af0" stroke-width="1.3"/>
<line x1="201" y1="225.9" x2="201" y2="223.9" stroke="#666" stroke-width="0.8"/>
<line x1="201" y1="143.8" x2="201" y2="145.8" stroke="#666" stroke-width="0.8"/>
<text x="196.3" y="233.9" font-size="7.4" text-anchor="middle" fill="#111" stroke="#111" >0</text>
<line x1="237.07" y1="225.9" x2="237.07" y2="223.9" stroke="#666" stroke-width="0.8"/>
<line x1="237.07" y1="143.8" x2="237.07" y2="145.8" stroke="#666" stroke-width="0.8"/>
<text x="237.07" y="233.9" font-size="7.4" text-anchor="middle" fill="#111" stroke="#111" >10</text>
<line x1="273.15" y1="225.9" x2="273.15" y2="223.9" stroke="#666" stroke-width="0.8"/>
<line x1="273.15" y1="143.8" x2="273.15" y2="145.8" stroke="#666" stroke-width="0.8"/>
<text x="273.15" y="233.9" font-size="7.4" text-anchor="middle" fill="#111" stroke="#111" >20</text>
<line x1="309.23" y1="225.9" x2="309.23" y2="223.9" stroke="#666" stroke-width="0.8"/>
<line x1="309.23" y1="143.8" x2="309.23" y2="145.8" stroke="#666" stroke-width="0.8"/>
<text x="309.23" y="233.9" font-size="7.4" text-anchor="middle" fill="#111" stroke="#111" >30</text>
<line x1="345.3" y1="225.9" x2="345.3" y2="223.9" stroke="#666" stroke-width="0.8"/>
<line x1="345.3" y1="143.8" x2="345.3" y2="145.8" stroke="#666" stroke-width="0.8"/>
<text x="345.3" y="233.9" font-size="7.4" text-anchor="middle" fill="#111" stroke="#111" >40</text>
<line x1="201" y1="225.9" x2="203" y2="225.9" stroke="#666" stroke-width="0.8"/>
<line x1="345.3" y1="225.9" x2="343.3" y2="225.9" stroke="#666" stroke-width="0.8"/>
<line x1="201" y1="212.22" x2="203" y2="212.22" stroke="#666" stroke-width="0.8"/>
<line x1="345.3" y1="212.22" x2="343.3" y2="212.22" stroke="#666" stroke-width="0.8"/>
<text x="197.7" y="214.52" font-size="7.4" text-anchor="end" fill="#111" stroke="#111" >2</text>
<line x1="201" y1="198.53" x2="203" y2="198.53" stroke="#666" stroke-width="0.8"/>
<line x1="345.3" y1="198.53" x2="343.3" y2="198.53" stroke="#666" stroke-width="0.8"/>
<text x="197.7" y="200.83" font-size="7.4" text-anchor="end" fill="#111" stroke="#111" >4</text>
<line x1="201" y1="184.85" x2="203" y2="184.85" stroke="#666" stroke-width="0.8"/>
<line x1="345.3" y1="184.85" x2="343.3" y2="184.85" stroke="#666" stroke-width="0.8"/>
<text x="197.7" y="187.15" font-size="7.4" text-anchor="end" fill="#111" stroke="#111" >6</text>
<line x1="201" y1="171.17" x2="203" y2="171.17" stroke="#666" stroke-width="0.8"/>
<line x1="345.3" y1="171.17" x2="343.3" y2="171.17" stroke="#666" stroke-width="0.8"/>
<text x="197.7" y="173.47" font-size="7.4" text-anchor="end" fill="#111" stroke="#111" >8</text>
<line x1="201" y1="157.48" x2="203" y2="157.48" stroke="#666" stroke-width="0.8"/>
<line x1="345.3" y1="157.48" x2="343.3" y2="157.48" stroke="#666" stroke-width="0.8"/>
<text x="197.7" y="159.78" font-size="7.4" text-anchor="end" fill="#111" stroke="#111" >10</text>
<line x1="201" y1="143.8" x2="203" y2="143.8" stroke="#666" stroke-width="0.8"/>
<line x1="345.3" y1="143.8" x2="343.3" y2="143.8" stroke="#666" stroke-width="0.8"/>
<text x="197.7" y="146.1" font-size="7.4" text-anchor="end" fill="#111" stroke="#111" >12</text>
<rect x="201" y="143.8" width="144.3" height="82.1" fill="none" stroke="#9a9a9a" stroke-width="1.25"/>
<clipPath id="cpD"><rect x="201.0" y="143.8" width="144.3" height="82.1"/></clipPath>
<g clip-path="url(#cpD)">
<line x1="235.4" y1="143.8" x2="235.4" y2="225.9" stroke="#c4c6f6" stroke-width="0.7"/>
<line x1="201.0" y1="191.73" x2="235.4" y2="191.73" stroke="#c4c6f6" stroke-width="0.7"/>
<path d="M201.5 225.8 L201.5 218.8 L201.77 218.6 L202.12 218.35 L202.55 218.04 L203.03 217.67 L203.56 217.26 L204.1 216.8 L204.67 216.29 L205.29 215.73 L205.95 215.12 L206.64 214.46 L207.36 213.75 L208.1 213 L208.87 212.18 L209.69 211.29 L210.53 210.36 L211.39 209.4 L212.25 208.44 L213.1 207.5 L213.95 206.58 L214.8 205.65 L215.65 204.72 L216.5 203.8 L217.35 202.89 L218.2 202 L219.04 201.14 L219.87 200.29 L220.7 199.46 L221.53 198.63 L222.36 197.82 L223.2 197 L224.07 196.17 L224.98 195.31 L225.89 194.46 L226.77 193.64 L227.59 192.88 L228.3 192.2 L228.86 191.63 L229.29 191.17 L229.65 190.76 L230.01 190.36 L230.44 189.92 L231 189.4 L231.71 188.77 L232.53 188.07 L233.41 187.33 L234.32 186.58 L235.23 185.86 L236.1 185.2 L236.94 184.61 L237.77 184.05 L238.6 183.52 L239.43 183.01 L240.26 182.51 L241.1 182 L241.95 181.48 L242.8 180.97 L243.65 180.46 L244.5 179.96 L245.35 179.47 L246.2 179 L247.02 178.56 L247.81 178.15 L248.59 177.76 L249.4 177.36 L250.26 176.95 L251.2 176.5 L252.15 176.06 L253.07 175.63 L254.04 175.19 L255.13 174.7 L256.43 174.11 L258 173.4 L259.75 172.58 L261.61 171.7 L263.68 170.73 L266.03 169.63 L268.77 168.4 L272 167 L275.82 165.38 L280.19 163.54 L284.94 161.57 L289.93 159.52 L295 157.48 L300 155.5 L305.19 153.5 L310.74 151.41 L316.38 149.31 L321.81 147.31 L326.78 145.51 L331 144 L334.48 142.79 L337.44 141.81 L339.94 141.03 L342 140.41 L343.67 139.91 L345 139.5" fill="none" stroke="#b0c848" stroke-width="1.0" stroke-linejoin="round"/>
<path d="M201.5 225.8 L201.5 218.8 L201.77 218.63 L202.12 218.4 L202.55 218.13 L203.03 217.82 L203.56 217.51 L204.1 217.2 L204.67 216.92 L205.29 216.64 L205.95 216.36 L206.64 216.04 L207.36 215.67 L208.1 215.2 L208.87 214.64 L209.69 213.99 L210.53 213.28 L211.39 212.53 L212.25 211.77 L213.1 211 L213.95 210.22 L214.8 209.41 L215.65 208.59 L216.5 207.75 L217.35 206.92 L218.2 206.1 L219.06 205.27 L219.95 204.41 L220.83 203.56 L221.69 202.73 L222.48 201.97 L223.2 201.3 L223.82 200.73 L224.36 200.25 L224.84 199.83 L225.29 199.45 L225.73 199.08 L226.2 198.7 L226.69 198.32 L227.18 197.97 L227.66 197.62 L228.13 197.29 L228.58 196.95 L229 196.6 L229.38 196.25 L229.71 195.9 L230.03 195.54 L230.34 195.18 L230.66 194.8 L231 194.4 L231.36 193.97 L231.72 193.53 L232.09 193.06 L232.47 192.59 L232.87 192.1 L233.3 191.6 L233.74 191.1 L234.18 190.61 L234.64 190.1 L235.14 189.57 L235.69 189.01 L236.3 188.4 L236.99 187.73 L237.76 187 L238.57 186.24 L239.41 185.47 L240.26 184.71 L241.1 184 L241.93 183.32 L242.78 182.66 L243.64 182.01 L244.5 181.39 L245.35 180.78 L246.2 180.2 L247.02 179.65 L247.81 179.13 L248.59 178.63 L249.4 178.15 L250.26 177.67 L251.2 177.2 L252.15 176.77 L253.07 176.4 L254.04 176.04 L255.13 175.63 L256.43 175.14 L258 174.5 L259.75 173.75 L261.61 172.94 L263.68 172.03 L266.03 171.01 L268.77 169.84 L272 168.5 L275.78 166.96 L280.07 165.23 L284.74 163.36 L289.69 161.38 L294.81 159.35 L300 157.3 L305.61 155.09 L311.81 152.66 L318.17 150.17 L324.3 147.79 L329.78 145.67 L334.2 144 L337.48 142.81 L339.93 141.98 L341.74 141.42 L343.07 141.04 L344.1 140.77 L345 140.5" fill="none" stroke="#c03a44" stroke-width="1.0" stroke-linejoin="round"/>
<path d="M201.5 225.8 L201.5 218.8 L201.77 218.65 L202.12 218.43 L202.55 218.18 L203.03 217.9 L203.56 217.64 L204.1 217.4 L204.7 217.19 L205.37 217 L206.08 216.81 L206.8 216.62 L207.48 216.42 L208.1 216.2 L208.66 215.95 L209.18 215.68 L209.67 215.4 L210.13 215.12 L210.58 214.85 L211 214.6 L211.36 214.41 L211.65 214.29 L211.91 214.18 L212.21 214.02 L212.59 213.78 L213.1 213.4 L213.78 212.85 L214.58 212.17 L215.47 211.41 L216.4 210.59 L217.32 209.78 L218.2 209 L219.06 208.23 L219.95 207.42 L220.83 206.61 L221.69 205.83 L222.48 205.12 L223.2 204.5 L223.79 204.02 L224.28 203.67 L224.71 203.37 L225.14 203.09 L225.62 202.75 L226.2 202.3 L226.91 201.71 L227.7 201.03 L228.55 200.3 L229.41 199.56 L230.24 198.84 L231 198.2 L231.73 197.64 L232.46 197.14 L233.16 196.67 L233.81 196.2 L234.36 195.72 L234.8 195.2 L235.07 194.62 L235.2 194 L235.23 193.36 L235.24 192.73 L235.27 192.14 L235.4 191.6 L235.59 191.15 L235.8 190.76 L236.04 190.41 L236.32 190.06 L236.67 189.67 L237.1 189.2 L237.62 188.64 L238.22 188.02 L238.89 187.36 L239.6 186.69 L240.34 186.03 L241.1 185.4 L241.89 184.81 L242.72 184.22 L243.59 183.65 L244.47 183.09 L245.34 182.54 L246.2 182 L247.02 181.48 L247.81 180.98 L248.59 180.49 L249.4 180 L250.26 179.51 L251.2 179 L252.15 178.5 L253.07 178.02 L254.04 177.53 L255.13 177.01 L256.43 176.45 L258 175.8 L259.75 175.12 L261.61 174.45 L263.68 173.72 L266.03 172.89 L268.77 171.9 L272 170.7 L275.75 169.3 L279.94 167.74 L284.53 166.03 L289.44 164.17 L294.62 162.15 L300 160 L306.05 157.49 L312.91 154.58 L320.03 151.52 L326.87 148.57 L332.88 145.98 L337.5 144 L340.57 142.71 L342.5 141.93 L343.59 141.5 L344.17 141.3 L344.53 141.18 L345 141" fill="none" stroke="#3838d8" stroke-width="1.0" stroke-linejoin="round"/>
<circle cx="235.4" cy="191.73" r="1.3" fill="#2a2ad0"/>
</g>
<text x="323.6" y="197.2" font-size="8.0" text-anchor="end" fill="#111" stroke="#111" ><tspan font-style="italic">H</tspan> = 30/17</text>
<line x1="327.4" y1="195.2" x2="336.6" y2="195.2" stroke="#b8d050" stroke-width="1.3"/>
<text x="323.6" y="208.6" font-size="8.0" text-anchor="end" fill="#111" stroke="#111" ><tspan font-style="italic">H</tspan> = 60/17</text>
<line x1="327.4" y1="206.6" x2="336.6" y2="206.6" stroke="#d04050" stroke-width="1.3"/>
<text x="323.6" y="220" font-size="8.0" text-anchor="end" fill="#111" stroke="#111" ><tspan font-style="italic">H<tspan font-size="5.6" dy="1.6">max</tspan></tspan><tspan dy="-1.6"> = 5.309</tspan></text>
<line x1="327.4" y1="218" x2="336.6" y2="218" stroke="#5050e0" stroke-width="1.3"/>
<line x1="24.5" y1="352.9" x2="24.5" y2="350.9" stroke="#666" stroke-width="0.8"/>
<line x1="24.5" y1="271.1" x2="24.5" y2="273.1" stroke="#666" stroke-width="0.8"/>
<text x="19.8" y="360.9" font-size="7.4" text-anchor="middle" fill="#111" stroke="#111" >0</text>
<line x1="60.7" y1="352.9" x2="60.7" y2="350.9" stroke="#666" stroke-width="0.8"/>
<line x1="60.7" y1="271.1" x2="60.7" y2="273.1" stroke="#666" stroke-width="0.8"/>
<text x="60.7" y="360.9" font-size="7.4" text-anchor="middle" fill="#111" stroke="#111" >10</text>
<line x1="96.9" y1="352.9" x2="96.9" y2="350.9" stroke="#666" stroke-width="0.8"/>
<line x1="96.9" y1="271.1" x2="96.9" y2="273.1" stroke="#666" stroke-width="0.8"/>
<text x="96.9" y="360.9" font-size="7.4" text-anchor="middle" fill="#111" stroke="#111" >20</text>
<line x1="133.1" y1="352.9" x2="133.1" y2="350.9" stroke="#666" stroke-width="0.8"/>
<line x1="133.1" y1="271.1" x2="133.1" y2="273.1" stroke="#666" stroke-width="0.8"/>
<text x="133.1" y="360.9" font-size="7.4" text-anchor="middle" fill="#111" stroke="#111" >30</text>
<line x1="169.3" y1="352.9" x2="169.3" y2="350.9" stroke="#666" stroke-width="0.8"/>
<line x1="169.3" y1="271.1" x2="169.3" y2="273.1" stroke="#666" stroke-width="0.8"/>
<text x="169.3" y="360.9" font-size="7.4" text-anchor="middle" fill="#111" stroke="#111" >40</text>
<line x1="24.5" y1="352.9" x2="26.5" y2="352.9" stroke="#666" stroke-width="0.8"/>
<line x1="169.3" y1="352.9" x2="167.3" y2="352.9" stroke="#666" stroke-width="0.8"/>
<line x1="24.5" y1="332.45" x2="26.5" y2="332.45" stroke="#666" stroke-width="0.8"/>
<line x1="169.3" y1="332.45" x2="167.3" y2="332.45" stroke="#666" stroke-width="0.8"/>
<text x="21.2" y="334.75" font-size="7.4" text-anchor="end" fill="#111" stroke="#111" >5</text>
<line x1="24.5" y1="312" x2="26.5" y2="312" stroke="#666" stroke-width="0.8"/>
<line x1="169.3" y1="312" x2="167.3" y2="312" stroke="#666" stroke-width="0.8"/>
<text x="21.2" y="314.3" font-size="7.4" text-anchor="end" fill="#111" stroke="#111" >10</text>
<line x1="24.5" y1="291.55" x2="26.5" y2="291.55" stroke="#666" stroke-width="0.8"/>
<line x1="169.3" y1="291.55" x2="167.3" y2="291.55" stroke="#666" stroke-width="0.8"/>
<text x="21.2" y="293.85" font-size="7.4" text-anchor="end" fill="#111" stroke="#111" >15</text>
<line x1="24.5" y1="271.1" x2="26.5" y2="271.1" stroke="#666" stroke-width="0.8"/>
<line x1="169.3" y1="271.1" x2="167.3" y2="271.1" stroke="#666" stroke-width="0.8"/>
<text x="21.2" y="273.4" font-size="7.4" text-anchor="end" fill="#111" stroke="#111" >20</text>
<rect x="24.5" y="271.1" width="144.8" height="81.8" fill="none" stroke="#9a9a9a" stroke-width="1.25"/>
<clipPath id="cpE"><rect x="24.5" y="271.1" width="144.8" height="81.79999999999995"/></clipPath>
<g clip-path="url(#cpE)">
<line x1="74.98" y1="271.1" x2="74.98" y2="352.9" stroke="#d4ccf8" stroke-width="1.6"/>
<line x1="24.5" y1="327.0" x2="169.3" y2="327.0" stroke="#222" stroke-width="0.8" stroke-dasharray="2 2.2"/>
<path d="M24.4 350.4 L44.7 350.4 L48.3 347 L53.9 341.2 L59.7 335.9 L65.6 332.4 L71.4 330 L74.2 328.9 L74.8 300 L75.2 271 L75.8 300 L76.7 310 L78.9 321.4 L81 327.9 L84.6 332.9 L90.3 335.7 L96 337.1 L97.4 335.7 L100.3 332.9 L107.4 330 L126 328.3 L152.1 327.9 L154.3 324.2 L157.9 319.1 L162.3 315.5 L165.9 315 L169.3 316.5" fill="none" stroke="#8a72e6" stroke-width="1.0" stroke-linejoin="round"/>
<path d="M24.4 348.5 L37.5 348.2 L41.1 342.3 L44.7 336.9 L48.3 333.3 L52.7 330.6 L57.4 329.4 L60.9 328.3 L61.5 321.2 L62.7 306 L64.4 288.8 L66.2 306 L67.3 315.4 L69.1 320 L71.4 324 L74.7 328.3 L81.7 330.7 L87.4 333.6 L90.3 332.1 L96 330 L111.7 328.6 L126 328.3 L134.6 325.7 L143.3 322.8 L150.6 320.9 L156.4 321.3 L163.7 323.2 L169.3 324.4" fill="none" stroke="#f29a4a" stroke-width="1.0" stroke-linejoin="round"/>
<path d="M24.4 346.3 L31.1 344.8 L32.1 343.3 L34.1 337.3 L37.1 332.7 L41.2 330.2 L46.2 328.7 L52.3 327.7 L52.8 326.1 L53.8 319.1 L56 316.2 L57.5 316.3 L59.1 317.7 L62.1 322.4 L66.8 325.9 L71.4 327.1 L74.7 328.3 L80 329.5 L90.3 328.6 L110 327.8 L134.6 326.4 L146.2 324.2 L155 324.2 L169.3 325.7" fill="none" stroke="#3f9a40" stroke-width="1.0" stroke-linejoin="round"/>
<path d="M24.4 342.3 L28 341.3 L29.6 339.3 L31.1 333.7 L33.1 330.7 L36.1 329.2 L42.2 328.2 L47.2 327.7 L49.3 323.6 L51.3 322.1 L55 321.9 L58.6 323 L63.2 324.8 L69.1 327.1 L74.7 328.3 L80 328.8 L90 328 L110 327.6 L130 327.5 L169.3 327.2" fill="none" stroke="#e040e0" stroke-width="1.0" stroke-linejoin="round"/>
<circle cx="28" cy="327.0" r="1.25" fill="#d030d0"/>
<circle cx="31.8" cy="327.0" r="1.25" fill="#208a20"/>
<circle cx="38.7" cy="327.0" r="1.25" fill="#e06030"/>
<circle cx="42.6" cy="327.0" r="1.25" fill="#6a50e0"/>
</g>
<text x="148.6" y="280.8" font-size="7.9" text-anchor="end" fill="#111" stroke="#111" ><tspan font-style="italic">H</tspan> = <tspan font-style="italic">π</tspan>/(<tspan font-style="italic">π</tspan>−1)</text>
<line x1="150.5" y1="278.8" x2="160" y2="278.8" stroke="#f09af0" stroke-width="1.3"/>
<text x="148.6" y="292.15" font-size="7.9" text-anchor="end" fill="#111" stroke="#111" ><tspan font-style="italic">H</tspan> = (2<tspan font-style="italic">π</tspan>)/(<tspan font-style="italic">π</tspan>−1)</text>
<line x1="150.5" y1="290.15" x2="160" y2="290.15" stroke="#3f9a40" stroke-width="1.3"/>
<text x="148.6" y="303.5" font-size="7.9" text-anchor="end" fill="#111" stroke="#111" ><tspan font-style="italic">H</tspan> = (4<tspan font-style="italic">π</tspan>)/(<tspan font-style="italic">π</tspan>−1)</text>
<line x1="150.5" y1="301.5" x2="160" y2="301.5" stroke="#f2a05a" stroke-width="1.3"/>
<text x="148.6" y="314.85" font-size="7.9" text-anchor="end" fill="#111" stroke="#111" ><tspan font-style="italic">H<tspan font-size="5.6" dy="1.6">max</tspan></tspan><tspan dy="-1.6"> = 9.851</tspan></text>
<line x1="150.5" y1="312.85" x2="160" y2="312.85" stroke="#9a8af0" stroke-width="1.3"/>
<line x1="201" y1="352.9" x2="201" y2="350.9" stroke="#666" stroke-width="0.8"/>
<line x1="201" y1="271.1" x2="201" y2="273.1" stroke="#666" stroke-width="0.8"/>
<text x="196.3" y="360.9" font-size="7.4" text-anchor="middle" fill="#111" stroke="#111" >0</text>
<line x1="237.07" y1="352.9" x2="237.07" y2="350.9" stroke="#666" stroke-width="0.8"/>
<line x1="237.07" y1="271.1" x2="237.07" y2="273.1" stroke="#666" stroke-width="0.8"/>
<text x="237.07" y="360.9" font-size="7.4" text-anchor="middle" fill="#111" stroke="#111" >10</text>
<line x1="273.15" y1="352.9" x2="273.15" y2="350.9" stroke="#666" stroke-width="0.8"/>
<line x1="273.15" y1="271.1" x2="273.15" y2="273.1" stroke="#666" stroke-width="0.8"/>
<text x="273.15" y="360.9" font-size="7.4" text-anchor="middle" fill="#111" stroke="#111" >20</text>
<line x1="309.23" y1="352.9" x2="309.23" y2="350.9" stroke="#666" stroke-width="0.8"/>
<line x1="309.23" y1="271.1" x2="309.23" y2="273.1" stroke="#666" stroke-width="0.8"/>
<text x="309.23" y="360.9" font-size="7.4" text-anchor="middle" fill="#111" stroke="#111" >30</text>
<line x1="345.3" y1="352.9" x2="345.3" y2="350.9" stroke="#666" stroke-width="0.8"/>
<line x1="345.3" y1="271.1" x2="345.3" y2="273.1" stroke="#666" stroke-width="0.8"/>
<text x="345.3" y="360.9" font-size="7.4" text-anchor="middle" fill="#111" stroke="#111" >40</text>
<line x1="201" y1="352.9" x2="203" y2="352.9" stroke="#666" stroke-width="0.8"/>
<line x1="345.3" y1="352.9" x2="343.3" y2="352.9" stroke="#666" stroke-width="0.8"/>
<line x1="201" y1="332.45" x2="203" y2="332.45" stroke="#666" stroke-width="0.8"/>
<line x1="345.3" y1="332.45" x2="343.3" y2="332.45" stroke="#666" stroke-width="0.8"/>
<text x="197.7" y="334.75" font-size="7.4" text-anchor="end" fill="#111" stroke="#111" >5</text>
<line x1="201" y1="312" x2="203" y2="312" stroke="#666" stroke-width="0.8"/>
<line x1="345.3" y1="312" x2="343.3" y2="312" stroke="#666" stroke-width="0.8"/>
<text x="197.7" y="314.3" font-size="7.4" text-anchor="end" fill="#111" stroke="#111" >10</text>
<line x1="201" y1="291.55" x2="203" y2="291.55" stroke="#666" stroke-width="0.8"/>
<line x1="345.3" y1="291.55" x2="343.3" y2="291.55" stroke="#666" stroke-width="0.8"/>
<text x="197.7" y="293.85" font-size="7.4" text-anchor="end" fill="#111" stroke="#111" >15</text>
<line x1="201" y1="271.1" x2="203" y2="271.1" stroke="#666" stroke-width="0.8"/>
<line x1="345.3" y1="271.1" x2="343.3" y2="271.1" stroke="#666" stroke-width="0.8"/>
<text x="197.7" y="273.4" font-size="7.4" text-anchor="end" fill="#111" stroke="#111" >20</text>
<rect x="201" y="271.1" width="144.3" height="81.8" fill="none" stroke="#9a9a9a" stroke-width="1.25"/>
<clipPath id="cpF"><rect x="201.0" y="271.1" width="144.3" height="81.79999999999995"/></clipPath>
<g clip-path="url(#cpF)">
<line x1="235.48" y1="271.1" x2="235.48" y2="352.9" stroke="#c4c8f8" stroke-width="1.2"/>
<line x1="201.0" y1="327.0" x2="345.3" y2="327.0" stroke="#222" stroke-width="0.8" stroke-dasharray="2 2.2"/>
<path d="M201.3 327 L201.6 342.4 L203.9 344.4 L205.8 343.7 L208.4 338.5 L212.3 332.7 L217.5 330.1 L223.4 328.1 L225.3 321.6 L227.3 315.1 L228.9 320.3 L230.5 324.2 L233.5 325.4 L245 326.4 L251.7 327.3 L257.1 329.6 L261.4 329.6 L267.1 328.1 L290 327.2 L304.6 327.1 L310.3 325.3 L317.4 325.3 L325 325.8 L345 326" fill="none" stroke="#b0c848" stroke-width="1.0" stroke-linejoin="round"/>
<path d="M201.3 327 L201.3 345 L203.9 347.4 L207.1 347.4 L211 342.4 L214.9 337.2 L220.1 332.7 L225.3 330.1 L228.6 328.8 L229.7 315 L231.2 276 L232.5 315.8 L233.5 320.6 L237.3 323.5 L245 324.5 L251.7 326.4 L252.6 329.2 L257.1 331.7 L260.7 333.1 L264.3 331.7 L271.4 329.6 L290 328 L304.6 327.4 L310.3 324.6 L316 321.4 L319.6 323.1 L324.6 324.3 L345 325.3" fill="none" stroke="#c03a44" stroke-width="1.0" stroke-linejoin="round"/>
<path d="M201.3 327 L201.3 346.3 L203.2 348.3 L205.8 349.2 L209.7 349.2 L213.6 345 L218.8 338.5 L224 334 L229.2 331.4 L233.1 330.1 L234.2 326.8 L234.6 300 L235 271 L235.8 271 L236.4 306.3 L238.3 315.8 L241.1 320.6 L246.9 323.1 L251.7 324.5 L252.6 329.2 L255.7 333.1 L261.4 336 L264.3 333.9 L268.6 331.7 L278.6 329.6 L300 328.1 L311.7 327.4 L313.9 324.6 L317.4 320.3 L321.4 316.3 L323.9 321 L327.4 323.1 L334.6 324.3 L345 324.6" fill="none" stroke="#3838d8" stroke-width="1.0" stroke-linejoin="round"/>
<circle cx="204.2" cy="327.0" r="1.25" fill="#a8a820"/>
<circle cx="208.2" cy="327.0" r="1.25" fill="#b02030"/>
<circle cx="211.7" cy="327.0" r="1.25" fill="#2a2ad0"/>
</g>
<text x="323.6" y="280.8" font-size="8.0" text-anchor="end" fill="#111" stroke="#111" ><tspan font-style="italic">H</tspan> = 30/17</text>
<line x1="327.4" y1="278.8" x2="336.6" y2="278.8" stroke="#b8d050" stroke-width="1.3"/>
<text x="323.6" y="291.65" font-size="8.0" text-anchor="end" fill="#111" stroke="#111" ><tspan font-style="italic">H</tspan> = 60/17</text>
<line x1="327.4" y1="289.65" x2="336.6" y2="289.65" stroke="#d04050" stroke-width="1.3"/>
<text x="323.6" y="302.5" font-size="8.0" text-anchor="end" fill="#111" stroke="#111" ><tspan font-style="italic">H<tspan font-size="5.6" dy="1.6">max</tspan></tspan><tspan dy="-1.6"> = 5.309</tspan></text>
<line x1="327.4" y1="300.5" x2="336.6" y2="300.5" stroke="#5050e0" stroke-width="1.3"/>
<text x="1" y="7.6" font-size="9.2" text-anchor="start" fill="#111" stroke="#111" >(<tspan font-style="italic">a</tspan>)</text>
<text x="177.7" y="7.7" font-size="9.2" text-anchor="start" fill="#111" stroke="#111" >(<tspan font-style="italic">b</tspan>)</text>
<text x="1" y="138" font-size="9.2" text-anchor="start" fill="#111" stroke="#111" >(<tspan font-style="italic">c</tspan>)</text>
<text x="175.8" y="138.1" font-size="9.2" text-anchor="start" fill="#111" stroke="#111" >(<tspan font-style="italic">d</tspan>)</text>
<text x="1" y="264" font-size="9.2" text-anchor="start" fill="#111" stroke="#111" >(<tspan font-style="italic">e</tspan>)</text>
<text x="176.2" y="264.2" font-size="9.2" text-anchor="start" fill="#111" stroke="#111" >(<tspan font-style="italic">f</tspan>)</text>
<text x="97" y="11.4" font-size="9.3" text-anchor="middle" fill="#111" stroke="#111" ><tspan font-style="italic">L</tspan> = 3, <tspan font-style="italic">H</tspan> = (2π)/(π−1)</text>
<text x="273" y="11" font-size="9.3" text-anchor="middle" fill="#111" stroke="#111" ><tspan font-style="italic">L</tspan> = 3, <tspan font-style="italic">L</tspan><tspan font-size="6.6" dy="1.7">1</tspan><tspan dy="-1.7"> = 1, </tspan><tspan font-style="italic">L</tspan><tspan font-size="6.6" dy="1.7">2</tspan><tspan dy="-1.7"> = 8/5, </tspan><tspan font-style="italic">H</tspan> = 60/17</text>
<text x="96.8" y="140.9" font-size="8.6" text-anchor="middle" fill="#111" stroke="#111" ><tspan font-style="italic">L</tspan> = 3</text>
<text x="273" y="141.3" font-size="9.3" text-anchor="middle" fill="#111" stroke="#111" ><tspan font-style="italic">L</tspan> = 3, <tspan font-style="italic">L</tspan><tspan font-size="6.6" dy="1.7">1</tspan><tspan dy="-1.7"> = 1, </tspan><tspan font-style="italic">L</tspan><tspan font-size="6.6" dy="1.7">2</tspan><tspan dy="-1.7"> = 8/5</tspan></text>
<text x="97" y="268.4" font-size="8.6" text-anchor="middle" fill="#111" stroke="#111" ><tspan font-style="italic">L</tspan> = 3</text>
<text x="273" y="268.7" font-size="9.3" text-anchor="middle" fill="#111" stroke="#111" ><tspan font-style="italic">L</tspan> = 3, <tspan font-style="italic">L</tspan><tspan font-size="6.6" dy="1.7">1</tspan><tspan dy="-1.7"> = 1, </tspan><tspan font-style="italic">L</tspan><tspan font-size="6.6" dy="1.7">2</tspan><tspan dy="-1.7"> = 8/5</tspan></text>
<text x="0" y="0" font-size="8.9" text-anchor="middle" fill="#111" stroke="#111" transform="translate(8.3,56.7) rotate(-90)">Droplet surface, <tspan font-style="italic">h</tspan>(<tspan font-style="italic">x</tspan>, <tspan font-style="italic">t</tspan>)</text>
<text x="0" y="0" font-size="8.9" text-anchor="middle" fill="#111" stroke="#111" transform="translate(184.3,56.7) rotate(-90)">Droplet surface, <tspan font-style="italic">h</tspan>(<tspan font-style="italic">x</tspan>, <tspan font-style="italic">t</tspan>)</text>
<text x="0" y="0" font-size="8.9" text-anchor="middle" fill="#111" stroke="#111" transform="translate(8.3,187.5) rotate(-90)">Contact line, <tspan font-style="italic">h</tspan>(<tspan font-style="italic">t</tspan>)</text>
<text x="0" y="0" font-size="8.9" text-anchor="middle" fill="#111" stroke="#111" transform="translate(184.3,187.5) rotate(-90)">Contact line, <tspan font-style="italic">h</tspan>(<tspan font-style="italic">t</tspan>)</text>
<text x="0" y="0" font-size="8.9" text-anchor="middle" fill="#111" stroke="#111" transform="translate(8.3,311) rotate(-90)">Load, <tspan font-style="italic">L</tspan> (<tspan font-style="italic">t</tspan>)</text>
<text x="0" y="0" font-size="8.9" text-anchor="middle" fill="#111" stroke="#111" transform="translate(184.3,311) rotate(-90)">Load, <tspan font-style="italic">L</tspan> (<tspan font-style="italic">t</tspan>)</text>
<text x="97.4" y="118.6" font-size="8.9" text-anchor="middle" fill="#111" stroke="#111" >Position, <tspan font-style="italic">x</tspan></text>
<text x="273.2" y="118.6" font-size="8.9" text-anchor="middle" fill="#111" stroke="#111" >Position, <tspan font-style="italic">x</tspan></text>
<text x="96.7" y="246" font-size="8.9" text-anchor="middle" fill="#111" stroke="#111" >Time, <tspan font-style="italic">t</tspan></text>
<text x="273.2" y="246" font-size="8.9" text-anchor="middle" fill="#111" stroke="#111" >Time, <tspan font-style="italic">t</tspan></text>
<text x="97.2" y="373.6" font-size="8.9" text-anchor="middle" fill="#111" stroke="#111" >Time, <tspan font-style="italic">t</tspan></text>
<text x="273.2" y="373.6" font-size="8.9" text-anchor="middle" fill="#111" stroke="#111" >Time, <tspan font-style="italic">t</tspan></text>
<text x="77.6" y="153.4" font-size="7.8" text-anchor="start" fill="#8a72e6" stroke="#8a72e6" ><tspan font-style="italic">t</tspan><tspan font-size="5.4" dy="1.6"><tspan font-style="italic">max</tspan></tspan><tspan dy="-1.6"> = 13.945</tspan></text>
<text x="78" y="348.5" font-size="7.8" text-anchor="start" fill="#8a72e6" stroke="#8a72e6" ><tspan font-style="italic">t</tspan><tspan font-size="5.4" dy="1.6"><tspan font-style="italic">max</tspan></tspan><tspan dy="-1.6"> = 13.945</tspan></text>
<text x="238.4" y="154.1" font-size="8.0" text-anchor="start" fill="#3a3ad0" stroke="#3a3ad0" ><tspan font-style="italic">t</tspan><tspan font-size="5.6" dy="1.7"><tspan font-style="italic">max</tspan></tspan><tspan dy="-1.7"> = 9.558</tspan></text>
<text x="237.2" y="348.5" font-size="8.0" text-anchor="start" fill="#3a3ad0" stroke="#3a3ad0" ><tspan font-style="italic">t</tspan><tspan font-size="5.6" dy="1.7"><tspan font-style="italic">max</tspan></tspan><tspan dy="-1.7"> = 9.558</tspan></text>
<text x="0" y="0" font-size="7.8" text-anchor="middle" fill="#8a72e6" stroke="#8a72e6" transform="translate(35,168.3) rotate(-90)"><tspan font-style="italic">h</tspan><tspan font-size="5.4" dy="1.6"><tspan font-style="italic">max</tspan></tspan><tspan dy="-1.6"> = 5.184</tspan></text>
<text x="0" y="0" font-size="7.8" text-anchor="middle" fill="#3a3ad0" stroke="#3a3ad0" transform="translate(213.8,169.4) rotate(-90)"><tspan font-style="italic">h</tspan><tspan font-size="5.4" dy="1.6"><tspan font-style="italic">max</tspan></tspan><tspan dy="-1.6"> = 4.994</tspan></text>
</svg></body></html>
